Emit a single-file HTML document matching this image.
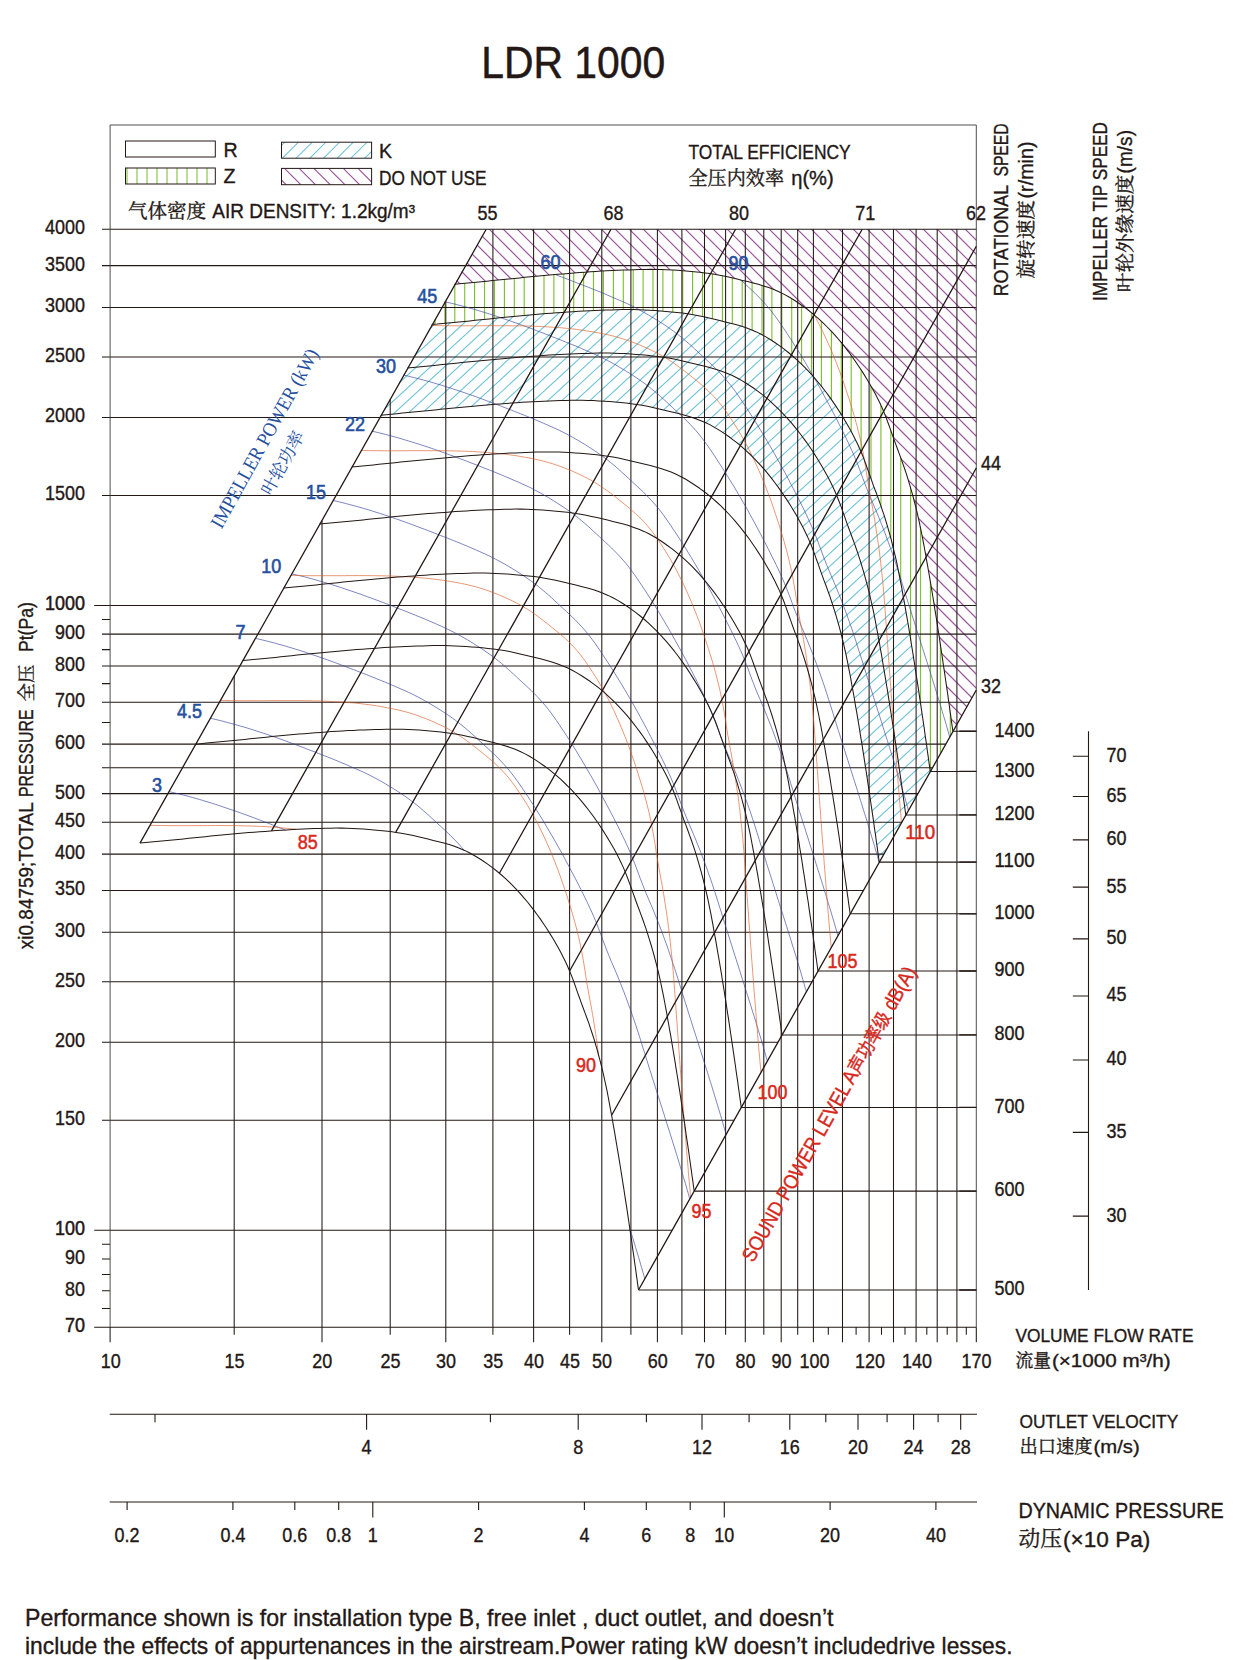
<!DOCTYPE html>
<html lang="en"><head><meta charset="utf-8"><title>LDR 1000</title>
<style>html,body{margin:0;padding:0;background:#fff}svg{display:block}</style></head>
<body>
<svg width="1242" height="1660" viewBox="0 0 1242 1660" font-family="'Liberation Sans','Noto Serif CJK SC',sans-serif" fill="#231815">
<rect width="1242" height="1660" fill="#fff"/>
<defs>
<clipPath id="ck"><path d="M380.7 415.2 L388.9 414.5 L397 413.7 L405.2 412.9 L413.4 412.1 L421.5 411.2 L429.7 410.4 L437.8 409.6 L446 408.8 L454.1 408 L462.3 407.2 L470.4 406.4 L478.6 405.7 L486.8 405 L494.9 404.3 L503.1 403.7 L511.3 403.1 L519.5 402.5 L527.6 402 L535.8 401.5 L544 401.2 L552.2 400.8 L560.4 400.6 L568.6 400.3 L576.8 400.2 L585 400.3 L593.2 400.6 L601.4 401 L609.5 401.6 L617.7 402.3 L625.9 403.1 L634 404.1 L642.1 405.3 L650.1 406.9 L658.1 408.7 L666.1 410.6 L674.1 412.5 L682 414.5 L689.9 416.7 L697.7 419.4 L705.3 422.5 L712.6 426.2 L719.6 430.4 L726.5 435 L733.1 439.8 L739.5 444.9 L745.7 450.3 L751.6 455.9 L757.4 461.8 L762.9 467.9 L768.2 474.1 L773.3 480.5 L778.2 487.1 L782.9 493.8 L787.4 500.6 L791.8 507.6 L796 514.6 L800 521.8 L803.8 529 L807.4 536.4 L810.7 543.9 L813.6 551.6 L816.4 559.3 L819.2 567 L821.9 574.7 L824.8 582.4 L827.6 590.1 L830.4 597.8 L832.9 605.6 L835.4 613.4 L837.7 621.3 L839.9 629.2 L841.9 637.1 L843.9 645.1 L845.7 653.1 L847.4 661.1 L848.9 669.2 L850.5 677.2 L851.9 685.3 L853.4 693.3 L854.8 701.4 L856.2 709.5 L857.6 717.6 L858.9 725.7 L860.2 733.7 L861.5 741.8 L862.8 749.9 L864.1 758 L865.3 766.1 L866.6 774.2 L867.8 782.3 L869 790.4 L870.2 798.5 L871.4 806.7 L872.6 814.8 L873.7 822.9 L874.9 831 L876 839.1 L877.2 847.2 L878.3 855.3 L879.2 862.1 L930.2 771.4 L929.3 764.7 L928.2 756.6 L927 748.4 L925.9 740.3 L924.7 732.2 L923.6 724.1 L922.4 716 L921.2 707.9 L920 699.8 L918.8 691.7 L917.6 683.6 L916.3 675.5 L915.1 667.4 L913.8 659.3 L912.5 651.2 L911.2 643.1 L909.9 635 L908.6 626.9 L907.2 618.8 L905.8 610.8 L904.4 602.7 L902.9 594.6 L901.5 586.6 L899.9 578.5 L898.4 570.5 L896.7 562.4 L894.9 554.4 L892.9 546.5 L890.9 538.5 L888.7 530.6 L886.4 522.8 L884 514.9 L881.4 507.2 L878.6 499.4 L875.8 491.8 L872.9 484.1 L870.2 476.4 L867.4 468.6 L864.6 460.9 L861.7 453.3 L858.4 445.8 L854.8 438.4 L851 431.1 L847 424 L842.8 416.9 L838.4 410 L833.9 403.1 L829.2 396.4 L824.3 389.9 L819.2 383.5 L813.9 377.2 L808.4 371.1 L802.6 365.3 L796.7 359.6 L790.5 354.2 L784.1 349.1 L777.5 344.3 L770.6 339.8 L763.6 335.6 L756.3 331.9 L748.7 328.7 L740.9 326.1 L733 323.8 L725.1 321.9 L717.1 319.9 L709.1 318 L701.1 316.2 L693.1 314.7 L685 313.4 L676.9 312.4 L668.7 311.6 L660.5 310.9 L652.4 310.4 L644.2 309.9 L636 309.6 L627.8 309.5 L619.6 309.7 L611.4 309.9 L603.2 310.2 L595 310.5 L586.8 310.9 L578.6 311.3 L570.5 311.9 L562.3 312.4 L554.1 313 L545.9 313.6 L537.8 314.3 L529.6 315 L521.4 315.7 L513.3 316.5 L505.1 317.3 L497 318.1 L488.8 318.9 L480.7 319.8 L472.5 320.6 L464.4 321.4 L456.2 322.2 L448 323 L439.9 323.8 L431.7 324.5Z"/></clipPath>
<clipPath id="cz"><path d="M431.7 324.5 L439.9 323.8 L448 323 L456.2 322.2 L464.4 321.4 L472.5 320.6 L480.7 319.8 L488.8 318.9 L497 318.1 L505.1 317.3 L513.3 316.5 L521.4 315.7 L529.6 315 L537.8 314.3 L545.9 313.6 L554.1 313 L562.3 312.4 L570.5 311.9 L578.6 311.3 L586.8 310.9 L595 310.5 L603.2 310.2 L611.4 309.9 L619.6 309.7 L627.8 309.5 L636 309.6 L644.2 309.9 L652.4 310.4 L660.5 310.9 L668.7 311.6 L676.9 312.4 L685 313.4 L693.1 314.7 L701.1 316.2 L709.1 318 L717.1 319.9 L725.1 321.9 L733 323.8 L740.9 326.1 L748.7 328.7 L756.3 331.9 L763.6 335.6 L770.6 339.8 L777.5 344.3 L784.1 349.1 L790.5 354.2 L796.7 359.6 L802.6 365.3 L808.4 371.1 L813.9 377.2 L819.2 383.5 L824.3 389.9 L829.2 396.4 L833.9 403.1 L838.4 410 L842.8 416.9 L847 424 L851 431.1 L854.8 438.4 L858.4 445.8 L861.7 453.3 L864.6 460.9 L867.4 468.6 L870.2 476.4 L872.9 484.1 L875.8 491.8 L878.6 499.4 L881.4 507.2 L884 514.9 L886.4 522.8 L888.7 530.6 L890.9 538.5 L892.9 546.5 L894.9 554.4 L896.7 562.4 L898.4 570.5 L899.9 578.5 L901.5 586.6 L902.9 594.6 L904.4 602.7 L905.8 610.8 L907.2 618.8 L908.6 626.9 L909.9 635 L911.2 643.1 L912.5 651.2 L913.8 659.3 L915.1 667.4 L916.3 675.5 L917.6 683.6 L918.8 691.7 L920 699.8 L921.2 707.9 L922.4 716 L923.6 724.1 L924.7 732.2 L925.9 740.3 L927 748.4 L928.2 756.6 L929.3 764.7 L930.2 771.4 L952.9 731.2 L951.9 724.5 L950.8 716.3 L949.7 708.2 L948.5 700.1 L947.4 692 L946.2 683.9 L945 675.8 L943.8 667.7 L942.6 659.6 L941.4 651.5 L940.2 643.4 L939 635.2 L937.7 627.1 L936.5 619.1 L935.2 611 L933.9 602.9 L932.5 594.8 L931.2 586.7 L929.8 578.6 L928.4 570.5 L927 562.5 L925.6 554.4 L924.1 546.3 L922.6 538.3 L921 530.2 L919.3 522.2 L917.5 514.2 L915.6 506.3 L913.5 498.3 L911.3 490.4 L909 482.6 L906.6 474.7 L904 466.9 L901.3 459.2 L898.4 451.5 L895.6 443.9 L892.8 436.1 L890.1 428.4 L887.3 420.7 L884.3 413.1 L881 405.6 L877.5 398.2 L873.7 390.9 L869.6 383.8 L865.4 376.7 L861.1 369.8 L856.5 362.9 L851.8 356.2 L846.9 349.7 L841.8 343.2 L836.5 337 L831 330.9 L825.3 325 L819.3 319.4 L813.1 314 L806.7 308.9 L800.1 304.1 L793.2 299.5 L786.2 295.4 L778.9 291.7 L771.3 288.5 L763.5 285.9 L755.6 283.6 L747.7 281.6 L739.7 279.7 L731.8 277.8 L723.8 276 L715.7 274.5 L707.6 273.2 L699.5 272.2 L691.3 271.4 L683.2 270.7 L675 270.1 L666.8 269.7 L658.6 269.4 L650.4 269.3 L642.2 269.5 L634 269.7 L625.8 270 L617.6 270.3 L609.5 270.7 L601.3 271.1 L593.1 271.6 L584.9 272.2 L576.7 272.8 L568.6 273.4 L560.4 274.1 L552.2 274.8 L544.1 275.5 L535.9 276.3 L527.8 277.1 L519.6 277.9 L511.4 278.7 L503.3 279.5 L495.1 280.4 L487 281.2 L478.8 282 L470.7 282.8 L462.5 283.6 L454.4 284.3Z"/></clipPath>
<clipPath id="cd"><path d="M454.4 284.3 L462.5 283.6 L470.7 282.8 L478.8 282 L487 281.2 L495.1 280.4 L503.3 279.5 L511.4 278.7 L519.6 277.9 L527.8 277.1 L535.9 276.3 L544.1 275.5 L552.2 274.8 L560.4 274.1 L568.6 273.4 L576.7 272.8 L584.9 272.2 L593.1 271.6 L601.3 271.1 L609.5 270.7 L617.6 270.3 L625.8 270 L634 269.7 L642.2 269.5 L650.4 269.3 L658.6 269.4 L666.8 269.7 L675 270.1 L683.2 270.7 L691.3 271.4 L699.5 272.2 L707.6 273.2 L715.7 274.5 L723.8 276 L731.8 277.8 L739.7 279.7 L747.7 281.6 L755.6 283.6 L763.5 285.9 L771.3 288.5 L778.9 291.7 L786.2 295.4 L793.2 299.5 L800.1 304.1 L806.7 308.9 L813.1 314 L819.3 319.4 L825.3 325 L831 330.9 L836.5 337 L841.8 343.2 L846.9 349.7 L851.8 356.2 L856.5 362.9 L861.1 369.8 L865.4 376.7 L869.6 383.8 L873.7 390.9 L877.5 398.2 L881 405.6 L884.3 413.1 L887.3 420.7 L890.1 428.4 L892.8 436.1 L895.6 443.9 L898.4 451.5 L901.3 459.2 L904 466.9 L906.6 474.7 L909 482.6 L911.3 490.4 L913.5 498.3 L915.6 506.3 L917.5 514.2 L919.3 522.2 L921 530.2 L922.6 538.3 L924.1 546.3 L925.6 554.4 L927 562.5 L928.4 570.5 L929.8 578.6 L931.2 586.7 L932.5 594.8 L933.9 602.9 L935.2 611 L936.5 619.1 L937.7 627.1 L939 635.2 L940.2 643.4 L941.4 651.5 L942.6 659.6 L943.8 667.7 L945 675.8 L946.2 683.9 L947.4 692 L948.5 700.1 L949.7 708.2 L950.8 716.3 L951.9 724.5 L952.9 731.2 L976.3 690 L976.3 229.3 L486.2 229.3Z"/></clipPath>
</defs>
<g fill="none">
<path clip-path="url(#ck)" stroke="#6ec3d7" stroke-width="1.1" d="M-235.9 864.1 L369 307.5M-221.9 864.1 L383 307.5M-207.9 864.1 L397 307.5M-193.9 864.1 L411 307.5M-179.9 864.1 L425 307.5M-165.9 864.1 L439 307.5M-151.9 864.1 L453 307.5M-137.9 864.1 L467 307.5M-123.9 864.1 L481 307.5M-109.9 864.1 L495 307.5M-95.9 864.1 L509 307.5M-81.9 864.1 L523 307.5M-67.9 864.1 L537 307.5M-53.9 864.1 L551 307.5M-39.9 864.1 L565 307.5M-25.9 864.1 L579 307.5M-11.9 864.1 L593 307.5M2.1 864.1 L607 307.5M16.1 864.1 L621 307.5M30.1 864.1 L635 307.5M44.1 864.1 L649 307.5M58.1 864.1 L663 307.5M72.1 864.1 L677 307.5M86.1 864.1 L691 307.5M100.1 864.1 L705 307.5M114.1 864.1 L719 307.5M128.1 864.1 L733 307.5M142.1 864.1 L747 307.5M156.1 864.1 L761 307.5M170.1 864.1 L775 307.5M184.1 864.1 L789 307.5M198.1 864.1 L803 307.5M212.1 864.1 L817 307.5M226.1 864.1 L831 307.5M240.1 864.1 L845 307.5M254.1 864.1 L859 307.5M268.1 864.1 L873 307.5M282.1 864.1 L887 307.5M296.1 864.1 L901 307.5M310.1 864.1 L915 307.5M324.1 864.1 L929 307.5M338.1 864.1 L943 307.5M352.1 864.1 L957 307.5M366.1 864.1 L971 307.5M380.1 864.1 L985 307.5M394.1 864.1 L999 307.5M408.1 864.1 L1013 307.5M422.1 864.1 L1027 307.5M436.1 864.1 L1041 307.5M450.1 864.1 L1055 307.5M464.1 864.1 L1069 307.5M478.1 864.1 L1083 307.5M492.1 864.1 L1097 307.5M506.1 864.1 L1111 307.5M520.1 864.1 L1125 307.5M534.1 864.1 L1139 307.5M548.1 864.1 L1153 307.5M562.1 864.1 L1167 307.5M576.1 864.1 L1181 307.5M590.1 864.1 L1195 307.5M604.1 864.1 L1209 307.5M618.1 864.1 L1223 307.5M632.1 864.1 L1237 307.5M646.1 864.1 L1251 307.5M660.1 864.1 L1265 307.5M674.1 864.1 L1279 307.5M688.1 864.1 L1293 307.5M702.1 864.1 L1307 307.5M716.1 864.1 L1321 307.5M730.1 864.1 L1335 307.5M744.1 864.1 L1349 307.5M758.1 864.1 L1363 307.5M772.1 864.1 L1377 307.5M786.1 864.1 L1391 307.5M800.1 864.1 L1405 307.5M814.1 864.1 L1419 307.5M828.1 864.1 L1433 307.5M842.1 864.1 L1447 307.5M856.1 864.1 L1461 307.5M870.1 864.1 L1475 307.5M884.1 864.1 L1489 307.5M898.1 864.1 L1503 307.5M912.1 864.1 L1517 307.5M926.1 864.1 L1531 307.5M940.1 864.1 L1545 307.5"/>
<path clip-path="url(#cz)" stroke="#7fc031" stroke-width="1.15" d="M425.1 267.3 V773.4M435 267.3 V773.4M444.9 267.3 V773.4M454.8 267.3 V773.4M464.7 267.3 V773.4M474.6 267.3 V773.4M484.5 267.3 V773.4M494.4 267.3 V773.4M504.4 267.3 V773.4M514.3 267.3 V773.4M524.2 267.3 V773.4M534.1 267.3 V773.4M544 267.3 V773.4M553.9 267.3 V773.4M563.8 267.3 V773.4M573.7 267.3 V773.4M583.6 267.3 V773.4M593.5 267.3 V773.4M603.4 267.3 V773.4M613.4 267.3 V773.4M623.3 267.3 V773.4M633.2 267.3 V773.4M643.1 267.3 V773.4M653 267.3 V773.4M662.9 267.3 V773.4M672.8 267.3 V773.4M682.7 267.3 V773.4M692.6 267.3 V773.4M702.5 267.3 V773.4M712.4 267.3 V773.4M722.4 267.3 V773.4M732.3 267.3 V773.4M742.2 267.3 V773.4M752.1 267.3 V773.4M762 267.3 V773.4M771.9 267.3 V773.4M781.8 267.3 V773.4M791.7 267.3 V773.4M801.6 267.3 V773.4M811.5 267.3 V773.4M821.4 267.3 V773.4M831.4 267.3 V773.4M841.3 267.3 V773.4M851.2 267.3 V773.4M861.1 267.3 V773.4M871 267.3 V773.4M880.9 267.3 V773.4M890.8 267.3 V773.4M900.7 267.3 V773.4M910.6 267.3 V773.4M920.5 267.3 V773.4M930.4 267.3 V773.4M940.4 267.3 V773.4M950.3 267.3 V773.4M960.2 267.3 V773.4"/>
<path clip-path="url(#cd)" stroke="#9a549b" stroke-width="1.15" d="M-58.6 227.3 L447.3 733.2M-44.6 227.3 L461.3 733.2M-30.6 227.3 L475.3 733.2M-16.6 227.3 L489.3 733.2M-2.6 227.3 L503.3 733.2M11.4 227.3 L517.3 733.2M25.4 227.3 L531.3 733.2M39.4 227.3 L545.3 733.2M53.4 227.3 L559.3 733.2M67.4 227.3 L573.3 733.2M81.4 227.3 L587.3 733.2M95.4 227.3 L601.3 733.2M109.4 227.3 L615.3 733.2M123.4 227.3 L629.3 733.2M137.4 227.3 L643.3 733.2M151.4 227.3 L657.3 733.2M165.4 227.3 L671.3 733.2M179.4 227.3 L685.3 733.2M193.4 227.3 L699.3 733.2M207.4 227.3 L713.3 733.2M221.4 227.3 L727.3 733.2M235.4 227.3 L741.3 733.2M249.4 227.3 L755.3 733.2M263.4 227.3 L769.3 733.2M277.4 227.3 L783.3 733.2M291.4 227.3 L797.3 733.2M305.4 227.3 L811.3 733.2M319.4 227.3 L825.3 733.2M333.4 227.3 L839.3 733.2M347.4 227.3 L853.3 733.2M361.4 227.3 L867.3 733.2M375.4 227.3 L881.3 733.2M389.4 227.3 L895.3 733.2M403.4 227.3 L909.3 733.2M417.4 227.3 L923.3 733.2M431.4 227.3 L937.3 733.2M445.4 227.3 L951.3 733.2M459.4 227.3 L965.3 733.2M473.4 227.3 L979.3 733.2M487.4 227.3 L993.3 733.2M501.4 227.3 L1007.3 733.2M515.4 227.3 L1021.3 733.2M529.4 227.3 L1035.3 733.2M543.4 227.3 L1049.3 733.2M557.4 227.3 L1063.3 733.2M571.4 227.3 L1077.3 733.2M585.4 227.3 L1091.3 733.2M599.4 227.3 L1105.3 733.2M613.4 227.3 L1119.3 733.2M627.4 227.3 L1133.3 733.2M641.4 227.3 L1147.3 733.2M655.4 227.3 L1161.3 733.2M669.4 227.3 L1175.3 733.2M683.4 227.3 L1189.3 733.2M697.4 227.3 L1203.3 733.2M711.4 227.3 L1217.3 733.2M725.4 227.3 L1231.3 733.2M739.4 227.3 L1245.3 733.2M753.4 227.3 L1259.3 733.2M767.4 227.3 L1273.3 733.2M781.4 227.3 L1287.3 733.2M795.4 227.3 L1301.3 733.2M809.4 227.3 L1315.3 733.2M823.4 227.3 L1329.3 733.2M837.4 227.3 L1343.3 733.2M851.4 227.3 L1357.3 733.2M865.4 227.3 L1371.3 733.2M879.4 227.3 L1385.3 733.2M893.4 227.3 L1399.3 733.2M907.4 227.3 L1413.3 733.2M921.4 227.3 L1427.3 733.2M935.4 227.3 L1441.3 733.2M949.4 227.3 L1455.3 733.2M963.4 227.3 L1469.3 733.2M977.4 227.3 L1483.3 733.2M991.4 227.3 L1497.3 733.2"/>
</g>
<path d="M102 229.3H976.3M102 265.6H976.3M102 307.4H976.3M102 356.9H976.3M102 417.4H976.3M102 495.5H976.3M94.2 605.5H976.3M102 634.1H976.3M102 666H976.3M102 702.3H969.4M102 744.1H945.8M102 767.7H932.5M102 793.6H918M102 822.2H901.9M102 854.1H883.9M102 890.4H863.5M102 932.2H839.9M102 981.7H812.1M102 1042.2H778M102 1120.3H734.1M94.2 1230.3H672.1M94.2 1327.2H976.3M102 619.4H110.1M102 649.6H110.1M102 683.6H110.1M102 722.4H110.1M102 1244.2H110.1M102 1258.9H110.1M102 1274.4H110.1M102 1290.8H110.1M102 1308.4H110.1M110.1 1327.2V1342.2M234.2 676.1V1334.7M322 520.4V1342.2M390.2 399.6V1334.7M445.8 300.9V1342.2M492.9 229.3V1334.7M533.6 229.3V1342.2M569.6 229.3V1334.7M601.8 229.3V1342.2M630.9 229.3V1334.7M657.4 229.3V1342.2M681.9 229.3V1334.7M704.5 229.3V1342.2M725.6 229.3V1334.7M745.3 229.3V1342.2M763.8 229.3V1334.7M781.2 229.3V1342.2M797.7 229.3V1334.7M813.4 229.3V1342.2M842.5 229.3V1342.2M869.1 229.3V1342.2M893.5 229.3V1342.2M916.1 229.3V1342.2M937.2 229.3V1342.2M956.9 229.3V1342.2M976.3 1327.2V1342.2M828.3 1327.2V1334.7M856.1 1327.2V1334.7M881.5 1327.2V1334.7M905 1327.2V1334.7M926.8 1327.2V1334.7M947.2 1327.2V1334.7M966.3 1327.2V1334.7" fill="none" stroke="#231815" stroke-width="1.05"/>
<path d="M110.1 1327.2V125H976.3V1327.2" fill="none" stroke="#3e3a39" stroke-width="0.9"/>
<path d="M638.5 1290H976.3M694.2 1191.1H976.3M741.2 1107.4H976.3M782 1034.9H976.3M818 971H976.3M850.1 913.8H976.3M879.2 862.1H976.3M905.8 814.9H976.3M930.2 771.4H976.3M952.9 731.2H976.3" fill="none" stroke="#231815" stroke-width="1.05"/>
<path d="M959.3 1290H976.3M959.3 1191.1H976.3M959.3 1107.4H976.3M959.3 1034.9H976.3M959.3 971H976.3M959.3 913.8H976.3M959.3 862.1H976.3M959.3 814.9H976.3M959.3 771.4H976.3M959.3 731.2H976.3" fill="none" stroke="#231815" stroke-width="1.35"/>
<path d="M169 791.6 L172.4 792.4 L175.8 793.2 L179.2 794 L182.6 794.8 L186 795.7 L189.3 796.6 L192.7 797.5 L196 798.5 L199.3 799.4 L202.6 800.4 L205.9 801.4 L209.1 802.4 L212.4 803.4 L215.7 804.4 L218.9 805.5 L222.2 806.6 L225.4 807.7 L228.6 808.8 L231.9 809.9 L235.1 811 L238.3 812.1 L241.5 813.3 L244.8 814.4 L248 815.6 L251.2 816.8 L254.4 818 L257.6 819.2 L260.8 820.4 L264 821.7 L267.3 822.9 L270.5 824.1 L273.7 825.4 L276.9 826.7 L280.1 827.9 L283.4 829.2 L285.4 830M210.3 718.2 L213.7 719 L217.1 719.8 L220.5 720.6 L223.9 721.5 L227.2 722.4 L230.6 723.3 L233.9 724.2 L237.2 725.1 L240.5 726.1 L243.8 727 L247.1 728 L250.4 729 L253.7 730.1 L256.9 731.1 L260.2 732.2 L263.4 733.2 L266.7 734.3 L269.9 735.4 L273.1 736.5 L276.4 737.6 L279.6 738.8 L282.8 739.9 L286 741.1 L289.2 742.3 L292.5 743.5 L295.7 744.7 L298.9 745.9 L302.1 747.1 L305.3 748.3 L308.5 749.6 L311.7 750.8 L315 752 L318.2 753.3 L321.4 754.6 L324.6 755.8 L327.9 757.1 L331.1 758.4 L334.3 759.7 L337.6 761 L340.8 762.4 L344 763.7 L347.3 765.1 L350.5 766.5 L353.7 767.9 L357 769.3 L360.2 770.7 L363.4 772.2 L366.6 773.7 L369.9 775.3 L373.1 777 L376.3 778.7 L379.5 780.4 L382.7 782.2 L385.9 784.1 L389 786 L392.2 787.9 L395.3 789.9 L398.5 791.9 L401.6 794 L404.7 796.1 L407.9 798.3 L410.9 800.6 L414 802.9 L417.1 805.3 L420.1 807.8 L423.1 810.4 L426.1 813 L429.1 815.7 L432.1 818.5 L435.1 821.2 L438.1 824 L441.1 826.7 L444 829.4 L447 832.2 L450 835.1 L452.9 838 L455.9 841 L458.8 844.1 L461.6 847.3 L464.2 850.3 L464.2 850.3M629.8 1228.3 L630.7 1231.2 L631.7 1234.5 L632.7 1237.8 L633.7 1241.1 L634.7 1244.4 L635.7 1247.7 L636.7 1251 L637.7 1254.3 L638.7 1257.6 L639.7 1260.9 L640.6 1264.3 L641.6 1267.6 L642.6 1271 L643.5 1274.3 L644.5 1277.7 L644.8 1278.8M255.2 638.3 L258.7 639.1 L262.1 639.9 L265.5 640.7 L268.8 641.6 L272.2 642.4 L275.5 643.3 L278.9 644.3 L282.2 645.2 L285.5 646.1 L288.8 647.1 L292.1 648.1 L295.4 649.1 L298.6 650.1 L301.9 651.2 L305.2 652.2 L308.4 653.3 L311.6 654.4 L314.9 655.5 L318.1 656.6 L321.3 657.7 L324.6 658.9 L327.8 660 L331 661.2 L334.2 662.3 L337.4 663.5 L340.6 664.7 L343.8 665.9 L347.1 667.2 L350.3 668.4 L353.5 669.6 L356.7 670.9 L359.9 672.1 L363.1 673.4 L366.4 674.6 L369.6 675.9 L372.8 677.2 L376.1 678.5 L379.3 679.8 L382.5 681.1 L385.8 682.4 L389 683.8 L392.2 685.2 L395.5 686.6 L398.7 688 L401.9 689.4 L405.2 690.8 L408.4 692.3 L411.6 693.8 L414.8 695.4 L418 697 L421.2 698.7 L424.4 700.5 L427.6 702.3 L430.8 704.2 L434 706.1 L437.2 708 L440.3 710 L443.5 712 L446.6 714.1 L449.7 716.2 L452.8 718.4 L455.9 720.6 L459 723 L462 725.4 L465.1 727.9 L468.1 730.5 L471.1 733.1 L474.1 735.8 L477.1 738.5 L480.1 741.3 L483 744 L486 746.8 L489 749.5 L492 752.3 L495 755.1 L497.9 758 L500.8 761 L503.7 764.1 L506.6 767.3 L509.4 770.6 L512.2 774.1 L514.9 777.7 L517.5 781.3 L520.1 785 L522.7 788.8 L525.2 792.6 L527.8 796.4 L530.3 800.3 L532.8 804.1 L535.2 808 L537.7 811.9 L540.1 815.8 L542.5 819.7 L544.8 823.6 L547.1 827.5 L549.4 831.4 L551.7 835.3 L554 839.2 L556.2 843.1 L558.4 847 L560.6 850.9 L562.7 854.8 L564.8 858.7 L566.9 862.6 L569 866.5 L571 870.4 L573.1 874.2 L575.1 878.1 L577.1 881.9 L579 885.8 L581 889.6 L582.9 893.5 L584.8 897.3 L586.6 901.1 L588.5 904.9 L590.2 908.7 L592 912.6 L593.7 916.4 L595.3 920.2 L596.8 924 L598.3 927.9 L599.8 931.7 L601.2 935.5 L602.6 939.3 L604 943.1 L605.5 946.9 L606.9 950.6 L608.4 954.3 L609.9 958 L611.4 961.7 L613 965.3 L614.5 968.9 L616.1 972.5 L617.6 976.1 L619 979.7 L620.5 983.3 L621.9 986.9 L623.3 990.4 L624.7 994 L626 997.6 L627.3 1001.1 L628.6 1004.7 L629.9 1008.2 L631.2 1011.8 L632.4 1015.3 L633.6 1018.8 L634.8 1022.3 L636 1025.8 L637.1 1029.3 L638.3 1032.8 L639.4 1036.3 L640.5 1039.7 L641.6 1043.2 L642.6 1046.7 L643.7 1050.1 L644.8 1053.5 L645.8 1057 L646.9 1060.4 L648 1063.8 L649 1067.2 L650.1 1070.6 L651.2 1073.9 L652.2 1077.3 L653.3 1080.7 L654.4 1084 L655.4 1087.4 L656.5 1090.7 L657.5 1094 L658.6 1097.4 L659.7 1100.7 L660.7 1104 L661.8 1107.3 L662.8 1110.6 L663.9 1113.9 L664.9 1117.2 L666 1120.5 L667 1123.8 L668 1127.1 L669.1 1130.4 L670.1 1133.7 L671.2 1137 L672.2 1140.3 L673.2 1143.6 L674.3 1146.9 L675.3 1150.2 L676.3 1153.5 L677.3 1156.7 L678.3 1160 L679.3 1163.3 L680.3 1166.6 L681.3 1170 L682.3 1173.3 L683.3 1176.6 L684.3 1179.9 L685.3 1183.2 L686.3 1186.6 L687.2 1189.9 L688.2 1193.3 L689.1 1196.6 L689.8 1198.9M291.5 573.8 L294.9 574.6 L298.4 575.4 L301.8 576.2 L305.1 577 L308.5 577.9 L311.8 578.8 L315.2 579.7 L318.5 580.7 L321.8 581.6 L325.1 582.6 L328.4 583.6 L331.7 584.6 L334.9 585.6 L338.2 586.7 L341.5 587.7 L344.7 588.8 L347.9 589.9 L351.2 591 L354.4 592.1 L357.6 593.2 L360.9 594.3 L364.1 595.5 L367.3 596.7 L370.5 597.8 L373.7 599 L376.9 600.2 L380.1 601.4 L383.4 602.6 L386.6 603.9 L389.8 605.1 L393 606.3 L396.2 607.6 L399.4 608.9 L402.7 610.1 L405.9 611.4 L409.1 612.7 L412.4 614 L415.6 615.3 L418.8 616.6 L422.1 617.9 L425.3 619.3 L428.5 620.7 L431.8 622 L435 623.4 L438.2 624.9 L441.5 626.3 L444.7 627.8 L447.9 629.3 L451.1 630.9 L454.3 632.5 L457.5 634.2 L460.7 636 L463.9 637.8 L467.1 639.6 L470.3 641.5 L473.5 643.5 L476.6 645.5 L479.8 647.5 L482.9 649.6 L486 651.7 L489.1 653.9 L492.2 656.1 L495.3 658.4 L498.3 660.8 L501.4 663.3 L504.4 665.9 L507.4 668.6 L510.4 671.3 L513.4 674 L516.4 676.8 L519.3 679.5 L522.3 682.3 L525.3 685 L528.3 687.8 L531.3 690.6 L534.2 693.5 L537.1 696.5 L540 699.6 L542.9 702.8 L545.7 706.1 L548.5 709.6 L551.2 713.1 L553.8 716.8 L556.4 720.5 L559 724.3 L561.5 728.1 L564.1 731.9 L566.6 735.8 L569.1 739.6 L571.5 743.5 L574 747.4 L576.4 751.2 L578.7 755.1 L581.1 759 L583.4 762.9 L585.7 766.9 L588 770.8 L590.3 774.7 L592.5 778.6 L594.7 782.5 L596.9 786.4 L599 790.3 L601.1 794.2 L603.2 798.1 L605.3 802 L607.3 805.8 L609.4 809.7 L611.4 813.6 L613.4 817.4 L615.3 821.3 L617.3 825.1 L619.2 828.9 L621.1 832.8 L622.9 836.6 L624.8 840.4 L626.5 844.2 L628.3 848 L629.9 851.9 L631.6 855.7 L633.1 859.5 L634.6 863.3 L636.1 867.2 L637.5 871 L638.9 874.8 L640.3 878.6 L641.8 882.4 L643.2 886.1 L644.7 889.8 L646.2 893.5 L647.7 897.1 L649.3 900.8 L650.8 904.4 L652.4 908 L653.9 911.6 L655.3 915.2 L656.8 918.8 L658.2 922.3 L659.6 925.9 L661 929.5 L662.3 933.1 L663.6 936.6 L664.9 940.2 L666.2 943.7 L667.5 947.2 L668.7 950.8 L669.9 954.3 L671.1 957.8 L672.3 961.3 L673.4 964.8 L674.6 968.3 L675.7 971.7 L676.8 975.2 L677.9 978.7 L678.9 982.1 L680 985.6 L681.1 989 L682.1 992.4 L683.2 995.8 L684.3 999.2 L685.3 1002.6 L686.4 1006 L687.5 1009.4 L688.5 1012.8 L689.6 1016.1 L690.7 1019.5 L691.7 1022.8 L692.8 1026.2 L693.8 1029.5 L694.9 1032.8 L696 1036.2 L697 1039.5 L698.1 1042.8 L699.1 1046.1 L700.2 1049.4 L701.2 1052.7 L702.3 1056 L703.3 1059.3 L704.3 1062.6 L705.4 1065.9 L706.4 1069.2 L707.5 1072.5 L708.5 1075.8 L709.5 1079.1 L710.6 1082.3 L711.6 1085.6 L712.6 1088.9 L713.6 1092.2 L714.6 1095.5 L715.6 1098.8 L716.6 1102.1 L717.6 1105.4 L718.6 1108.7 L719.6 1112.1 L720.6 1115.4 L721.6 1118.7 L722.6 1122 L723.5 1125.4 L724.5 1128.7 L725.4 1132.1 L726.1 1134.4M332.8 500.4 L336.2 501.2 L339.6 502 L343 502.8 L346.4 503.7 L349.8 504.6 L353.1 505.5 L356.4 506.4 L359.8 507.3 L363.1 508.3 L366.4 509.2 L369.7 510.2 L372.9 511.2 L376.2 512.3 L379.5 513.3 L382.7 514.4 L386 515.4 L389.2 516.5 L392.4 517.6 L395.7 518.7 L398.9 519.8 L402.1 521 L405.3 522.1 L408.6 523.3 L411.8 524.5 L415 525.7 L418.2 526.9 L421.4 528.1 L424.6 529.3 L427.8 530.5 L431.1 531.8 L434.3 533 L437.5 534.3 L440.7 535.5 L443.9 536.8 L447.2 538 L450.4 539.3 L453.6 540.6 L456.9 541.9 L460.1 543.2 L463.3 544.6 L466.6 545.9 L469.8 547.3 L473 548.7 L476.3 550.1 L479.5 551.5 L482.7 552.9 L486 554.4 L489.2 555.9 L492.4 557.5 L495.6 559.2 L498.8 560.9 L502 562.6 L505.2 564.4 L508.4 566.3 L511.6 568.2 L514.7 570.1 L517.9 572.1 L521 574.1 L524.1 576.2 L527.3 578.3 L530.4 580.5 L533.5 582.8 L536.6 585.1 L539.6 587.5 L542.6 590 L545.7 592.6 L548.7 595.2 L551.7 597.9 L554.6 600.7 L557.6 603.4 L560.6 606.2 L563.6 608.9 L566.6 611.7 L569.5 614.4 L572.5 617.3 L575.5 620.2 L578.4 623.2 L581.3 626.3 L584.2 629.5 L587 632.8 L589.7 636.2 L592.4 639.8 L595.1 643.4 L597.7 647.2 L600.3 650.9 L602.8 654.8 L605.3 658.6 L607.8 662.4 L610.3 666.3 L612.8 670.1 L615.2 674 L617.6 677.9 L620 681.8 L622.4 685.7 L624.7 689.6 L627 693.5 L629.3 697.4 L631.5 701.3 L633.8 705.2 L636 709.1 L638.1 713 L640.3 716.9 L642.4 720.8 L644.5 724.7 L646.6 728.6 L648.6 732.5 L650.6 736.4 L652.6 740.2 L654.6 744.1 L656.6 747.9 L658.5 751.8 L660.4 755.6 L662.3 759.4 L664.2 763.2 L666 767.1 L667.8 770.9 L669.5 774.7 L671.2 778.5 L672.8 782.3 L674.4 786.2 L675.9 790 L677.4 793.8 L678.8 797.6 L680.2 801.4 L681.6 805.2 L683 809 L684.5 812.7 L686 816.5 L687.5 820.1 L689 823.8 L690.6 827.4 L692.1 831 L693.6 834.6 L695.1 838.2 L696.6 841.8 L698 845.4 L699.5 849 L700.9 852.6 L702.2 856.1 L703.6 859.7 L704.9 863.3 L706.2 866.8 L707.5 870.3 L708.7 873.9 L710 877.4 L711.2 880.9 L712.4 884.4 L713.5 887.9 L714.7 891.4 L715.8 894.9 L716.9 898.4 L718 901.9 L719.1 905.3 L720.2 908.8 L721.3 912.2 L722.3 915.7 L723.4 919.1 L724.5 922.5 L725.5 925.9 L726.6 929.3 L727.7 932.7 L728.7 936.1 L729.8 939.4 L730.9 942.8 L731.9 946.1 L733 949.5 L734 952.8 L735.1 956.2 L736.2 959.5 L737.2 962.8 L738.3 966.1 L739.3 969.5 L740.4 972.8 L741.4 976.1 L742.5 979.4 L743.5 982.7 L744.6 986 L745.6 989.3 L746.6 992.6 L747.7 995.8 L748.7 999.1 L749.8 1002.4 L750.8 1005.7 L751.8 1009 L752.8 1012.3 L753.9 1015.6 L754.9 1018.9 L755.9 1022.2 L756.9 1025.5 L757.9 1028.8 L758.9 1032.1 L759.9 1035.4 L760.9 1038.7 L761.9 1042 L762.9 1045.4 L763.8 1048.7 L764.8 1052 L765.7 1055.4 L766.7 1058.8 L767.3 1061M371.8 431.1 L375.2 431.9 L378.6 432.7 L382 433.6 L385.4 434.4 L388.7 435.3 L392.1 436.2 L395.4 437.1 L398.7 438 L402.1 439 L405.3 440 L408.6 441 L411.9 442 L415.2 443 L418.4 444 L421.7 445.1 L424.9 446.1 L428.2 447.2 L431.4 448.3 L434.6 449.4 L437.9 450.6 L441.1 451.7 L444.3 452.9 L447.5 454 L450.7 455.2 L454 456.4 L457.2 457.6 L460.4 458.8 L463.6 460 L466.8 461.2 L470 462.5 L473.2 463.7 L476.5 465 L479.7 466.2 L482.9 467.5 L486.1 468.8 L489.4 470 L492.6 471.3 L495.8 472.6 L499.1 474 L502.3 475.3 L505.5 476.7 L508.8 478 L512 479.4 L515.2 480.8 L518.5 482.2 L521.7 483.7 L524.9 485.1 L528.2 486.6 L531.4 488.2 L534.6 489.9 L537.8 491.6 L541 493.3 L544.2 495.2 L547.4 497 L550.5 498.9 L553.7 500.8 L556.8 502.8 L560 504.9 L563.1 506.9 L566.2 509 L569.4 511.2 L572.5 513.5 L575.5 515.8 L578.6 518.2 L581.6 520.7 L584.6 523.3 L587.7 525.9 L590.6 528.6 L593.6 531.4 L596.6 534.1 L599.6 536.9 L602.6 539.6 L605.5 542.4 L608.5 545.1 L611.5 548 L614.4 550.9 L617.4 553.9 L620.3 557 L623.1 560.2 L626 563.5 L628.7 566.9 L631.4 570.5 L634.1 574.2 L636.7 577.9 L639.2 581.7 L641.8 585.5 L644.3 589.3 L646.8 593.1 L649.3 597 L651.8 600.8 L654.2 604.7 L656.6 608.6 L659 612.5 L661.3 616.4 L663.7 620.3 L666 624.2 L668.3 628.1 L670.5 632 L672.7 635.9 L674.9 639.9 L677.1 643.8 L679.3 647.7 L681.4 651.5 L683.5 655.4 L685.5 659.3 L687.6 663.2 L689.6 667.1 L691.6 670.9 L693.6 674.8 L695.6 678.6 L697.5 682.5 L699.4 686.3 L701.3 690.1 L703.2 694 L705 697.8 L706.8 701.6 L708.5 705.4 L710.2 709.2 L711.8 713 L713.4 716.9 L714.9 720.7 L716.3 724.5 L717.8 728.4 L719.2 732.2 L720.6 736 L722 739.7 L723.4 743.5 L724.9 747.2 L726.5 750.8 L728 754.5 L729.5 758.1 L731.1 761.7 L732.6 765.4 L734.1 769 L735.6 772.5 L737 776.1 L738.4 779.7 L739.8 783.3 L741.2 786.9 L742.5 790.4 L743.9 794 L745.2 797.5 L746.5 801.1 L747.7 804.6 L749 808.1 L750.2 811.6 L751.4 815.1 L752.5 818.7 L753.7 822.1 L754.8 825.6 L755.9 829.1 L757 832.6 L758.1 836 L759.2 839.5 L760.2 842.9 L761.3 846.4 L762.4 849.8 L763.4 853.2 L764.5 856.6 L765.6 860 L766.6 863.4 L767.7 866.8 L768.8 870.1 L769.8 873.5 L770.9 876.9 L772 880.2 L773 883.6 L774.1 886.9 L775.1 890.2 L776.2 893.5 L777.2 896.9 L778.3 900.2 L779.3 903.5 L780.4 906.8 L781.4 910.1 L782.5 913.4 L783.5 916.7 L784.6 920 L785.6 923.3 L786.7 926.6 L787.7 929.9 L788.7 933.1 L789.8 936.4 L790.8 939.7 L791.8 943 L792.8 946.3 L793.9 949.6 L794.9 952.9 L795.9 956.2 L796.9 959.5 L797.9 962.8 L798.9 966.1 L799.9 969.4 L800.9 972.7 L801.8 976.1 L802.8 979.4 L803.8 982.8 L804.7 986.1 L805.7 989.5 L806.3 991.7M403.3 375 L406.8 375.8 L410.2 376.6 L413.6 377.5 L416.9 378.3 L420.3 379.2 L423.7 380.1 L427 381 L430.3 381.9 L433.6 382.9 L436.9 383.9 L440.2 384.8 L443.5 385.9 L446.7 386.9 L450 387.9 L453.3 389 L456.5 390 L459.7 391.1 L463 392.2 L466.2 393.3 L469.4 394.5 L472.7 395.6 L475.9 396.7 L479.1 397.9 L482.3 399.1 L485.5 400.3 L488.7 401.5 L492 402.7 L495.2 403.9 L498.4 405.1 L501.6 406.4 L504.8 407.6 L508 408.9 L511.3 410.1 L514.5 411.4 L517.7 412.6 L520.9 413.9 L524.2 415.2 L527.4 416.5 L530.6 417.8 L533.9 419.2 L537.1 420.5 L540.3 421.9 L543.6 423.3 L546.8 424.7 L550 426.1 L553.3 427.6 L556.5 429 L559.7 430.5 L562.9 432.1 L566.1 433.8 L569.4 435.5 L572.5 437.2 L575.7 439 L578.9 440.9 L582.1 442.8 L585.3 444.7 L588.4 446.7 L591.6 448.8 L594.7 450.8 L597.8 452.9 L600.9 455.1 L604 457.4 L607.1 459.7 L610.2 462.1 L613.2 464.6 L616.2 467.2 L619.2 469.8 L622.2 472.5 L625.2 475.3 L628.2 478 L631.1 480.8 L634.1 483.5 L637.1 486.3 L640.1 489 L643.1 491.9 L646 494.8 L648.9 497.8 L651.8 500.9 L654.7 504.1 L657.5 507.4 L660.3 510.8 L663 514.4 L665.6 518 L668.2 521.8 L670.8 525.6 L673.3 529.4 L675.9 533.2 L678.4 537 L680.9 540.9 L683.3 544.7 L685.8 548.6 L688.2 552.5 L690.6 556.4 L692.9 560.3 L695.2 564.2 L697.5 568.1 L699.8 572 L702.1 575.9 L704.3 579.8 L706.5 583.7 L708.7 587.6 L710.8 591.5 L712.9 595.4 L715 599.3 L717.1 603.2 L719.2 607.1 L721.2 611 L723.2 614.8 L725.2 618.7 L727.1 622.5 L729.1 626.4 L731 630.2 L732.9 634 L734.7 637.9 L736.6 641.7 L738.3 645.5 L740.1 649.3 L741.8 653.1 L743.4 656.9 L744.9 660.8 L746.4 664.6 L747.9 668.4 L749.3 672.3 L750.7 676.1 L752.1 679.9 L753.6 683.6 L755 687.4 L756.5 691.1 L758 694.7 L759.6 698.4 L761.1 702 L762.6 705.6 L764.2 709.2 L765.7 712.8 L767.1 716.4 L768.6 720 L770 723.6 L771.4 727.2 L772.8 730.8 L774.1 734.3 L775.4 737.9 L776.7 741.4 L778 745 L779.3 748.5 L780.5 752 L781.7 755.5 L782.9 759 L784.1 762.5 L785.2 766 L786.4 769.5 L787.5 773 L788.6 776.5 L789.7 779.9 L790.7 783.4 L791.8 786.8 L792.9 790.3 L793.9 793.7 L795 797.1 L796.1 800.5 L797.1 803.9 L798.2 807.3 L799.3 810.7 L800.3 814 L801.4 817.4 L802.5 820.8 L803.5 824.1 L804.6 827.4 L805.6 830.8 L806.7 834.1 L807.8 837.4 L808.8 840.8 L809.9 844.1 L810.9 847.4 L812 850.7 L813 854 L814.1 857.3 L815.1 860.6 L816.1 863.9 L817.2 867.2 L818.2 870.5 L819.3 873.7 L820.3 877 L821.3 880.3 L822.4 883.6 L823.4 886.9 L824.4 890.2 L825.4 893.5 L826.4 896.8 L827.4 900.1 L828.4 903.4 L829.4 906.7 L830.4 910 L831.4 913.3 L832.4 916.6 L833.4 920 L834.4 923.3 L835.3 926.7 L836.3 930 L837.2 933.4 L837.9 935.6M444.6 301.7 L448 302.5 L451.4 303.3 L454.8 304.1 L458.2 305 L461.6 305.8 L464.9 306.7 L468.2 307.6 L471.6 308.6 L474.9 309.5 L478.2 310.5 L481.5 311.5 L484.7 312.5 L488 313.5 L491.3 314.6 L494.5 315.6 L497.8 316.7 L501 317.8 L504.2 318.9 L507.5 320 L510.7 321.1 L513.9 322.3 L517.1 323.4 L520.4 324.6 L523.6 325.7 L526.8 326.9 L530 328.1 L533.2 329.3 L536.4 330.6 L539.6 331.8 L542.9 333 L546.1 334.3 L549.3 335.5 L552.5 336.8 L555.7 338 L559 339.3 L562.2 340.6 L565.4 341.9 L568.7 343.2 L571.9 344.5 L575.1 345.8 L578.4 347.2 L581.6 348.6 L584.8 350 L588.1 351.4 L591.3 352.8 L594.5 354.2 L597.8 355.7 L601 357.2 L604.2 358.8 L607.4 360.4 L610.6 362.1 L613.8 363.9 L617 365.7 L620.2 367.6 L623.4 369.5 L626.5 371.4 L629.7 373.4 L632.8 375.4 L636 377.5 L639.1 379.6 L642.2 381.8 L645.3 384 L648.4 386.3 L651.4 388.8 L654.5 391.3 L657.5 393.8 L660.5 396.5 L663.5 399.2 L666.5 401.9 L669.4 404.7 L672.4 407.4 L675.4 410.2 L678.4 412.9 L681.4 415.7 L684.3 418.5 L687.3 421.4 L690.2 424.4 L693.1 427.5 L696 430.7 L698.8 434 L701.5 437.5 L704.2 441 L706.9 444.7 L709.5 448.4 L712.1 452.2 L714.6 456 L717.1 459.8 L719.6 463.7 L722.1 467.5 L724.6 471.4 L727 475.3 L729.4 479.2 L731.8 483 L734.2 486.9 L736.5 490.9 L738.8 494.8 L741.1 498.7 L743.3 502.6 L745.6 506.5 L747.8 510.4 L749.9 514.3 L752.1 518.2 L754.2 522.1 L756.3 526 L758.4 529.9 L760.4 533.7 L762.4 537.6 L764.4 541.5 L766.4 545.3 L768.4 549.2 L770.3 553 L772.2 556.9 L774.1 560.7 L776 564.5 L777.8 568.3 L779.6 572.1 L781.3 576 L783 579.8 L784.6 583.6 L786.2 587.4 L787.7 591.3 L789.2 595.1 L790.6 598.9 L792 602.7 L793.4 606.5 L794.8 610.3 L796.3 614 L797.8 617.7 L799.3 621.4 L800.8 625 L802.4 628.7 L803.9 632.3 L805.4 635.9 L806.9 639.5 L808.4 643.1 L809.8 646.7 L811.3 650.3 L812.7 653.8 L814 657.4 L815.4 661 L816.7 664.5 L818 668.1 L819.3 671.6 L820.5 675.1 L821.8 678.7 L823 682.2 L824.2 685.7 L825.4 689.2 L826.5 692.7 L827.6 696.2 L828.7 699.7 L829.8 703.1 L830.9 706.6 L832 710 L833.1 713.5 L834.1 716.9 L835.2 720.3 L836.3 723.8 L837.3 727.2 L838.4 730.6 L839.5 733.9 L840.5 737.3 L841.6 740.7 L842.7 744.1 L843.7 747.4 L844.8 750.8 L845.8 754.1 L846.9 757.4 L848 760.8 L849 764.1 L850.1 767.4 L851.1 770.7 L852.2 774 L853.2 777.3 L854.3 780.6 L855.3 783.9 L856.4 787.2 L857.4 790.5 L858.5 793.8 L859.5 797.1 L860.5 800.4 L861.6 803.7 L862.6 807 L863.6 810.3 L864.6 813.6 L865.7 816.8 L866.7 820.1 L867.7 823.4 L868.7 826.7 L869.7 830 L870.7 833.3 L871.7 836.7 L872.7 840 L873.7 843.3 L874.7 846.6 L875.6 850 L876.6 853.3 L877.6 856.7 L878.5 860 L879.1 862.3M555.1 274.5 L558.2 275.7 L561.4 276.9 L564.6 278.1 L567.8 279.3 L571.1 280.6 L574.3 281.8 L577.5 283.1 L580.7 284.3 L583.9 285.6 L587.2 286.8 L590.4 288.1 L593.6 289.4 L596.9 290.7 L600.1 292 L603.3 293.3 L606.6 294.7 L609.8 296.1 L613 297.5 L616.3 298.9 L619.5 300.3 L622.7 301.7 L626 303.1 L629.2 304.6 L632.4 306.2 L635.6 307.8 L638.8 309.5 L642 311.3 L645.2 313.1 L648.4 314.9 L651.6 316.8 L654.7 318.7 L657.9 320.7 L661.1 322.7 L664.2 324.7 L667.3 326.8 L670.4 329 L673.5 331.2 L676.6 333.5 L679.7 335.9 L682.7 338.4 L685.7 340.9 L688.8 343.6 L691.8 346.2 L694.7 349 L697.7 351.7 L700.7 354.5 L703.7 357.2 L706.7 360 L709.6 362.7 L712.6 365.5 L715.6 368.4 L718.5 371.4 L721.4 374.4 L724.3 377.6 L727.1 380.9 L729.9 384.3 L732.6 387.8 L735.3 391.4 L737.9 395.1 L740.5 398.9 L743 402.7 L745.6 406.5 L748.1 410.4 L750.6 414.2 L753.1 418.1 L755.5 421.9 L757.9 425.8 L760.3 429.7 L762.7 433.6 L765 437.5 L767.3 441.4 L769.6 445.3 L771.9 449.2 L774.1 453.1 L776.3 457.1 L778.5 461 L780.6 464.9 L782.8 468.8 L784.9 472.6 L787 476.5 L789 480.4 L791 484.3 L793.1 488.2 L795 492 L797 495.9 L799 499.7 L800.9 503.5 L802.8 507.4 L804.7 511.2 L806.5 515 L808.3 518.8 L810 522.6 L811.7 526.5 L813.4 530.3 L815 534.1 L816.5 537.9 L818 541.8 L819.4 545.6 L820.8 549.4 L822.2 553.2 L823.6 557 L825.1 560.7 L826.5 564.4 L828 568.1 L829.6 571.8 L831.1 575.4 L832.7 579 L834.2 582.7 L835.7 586.3 L837.2 589.9 L838.6 593.4 L840.1 597 L841.5 600.6 L842.9 604.2 L844.2 607.7 L845.5 611.3 L846.9 614.8 L848.1 618.4 L849.4 621.9 L850.6 625.5 L851.9 629 L853.1 632.5 L854.2 636 L855.4 639.5 L856.5 643 L857.6 646.5 L858.7 649.9 L859.8 653.4 L860.9 656.9 L862 660.3 L863.1 663.7 L864.1 667.2 L865.2 670.6 L866.3 674 L867.3 677.4 L868.4 680.8 L869.5 684.2 L870.5 687.5 L871.6 690.9 L872.7 694.3 L873.7 697.6 L874.8 700.9 L875.8 704.3 L876.9 707.6 L877.9 710.9 L879 714.3 L880.1 717.6 L881.1 720.9 L882.2 724.2 L883.2 727.5 L884.3 730.8 L885.3 734.1 L886.3 737.4 L887.4 740.7 L888.4 744 L889.5 747.3 L890.5 750.5 L891.5 753.8 L892.6 757.1 L893.6 760.4 L894.6 763.7 L895.6 767 L896.6 770.3 L897.6 773.6 L898.7 776.9 L899.7 780.2 L900.7 783.5 L901.6 786.8 L902.6 790.1 L903.6 793.5 L904.6 796.8 L905.6 800.1 L906.5 803.5 L907.5 806.9 L908.4 810.2 L908.4 810.2M740.7 279.9 L743 282 L745.9 284.8 L748.9 287.5 L751.9 290.3 L754.9 293.1 L757.8 296 L760.7 299 L763.6 302.1 L766.5 305.3 L769.3 308.7 L772.1 312.1 L774.8 315.7 L777.4 319.3 L780 323 L782.6 326.8 L785.2 330.6 L787.7 334.5 L790.2 338.3 L792.7 342.1 L795.1 346 L797.6 349.9 L800 353.8 L802.4 357.7 L804.7 361.6 L807 365.5 L809.3 369.4 L811.6 373.3 L813.9 377.2 L816.1 381.1 L818.3 385 L820.5 388.9 L822.6 392.8 L824.7 396.7 L826.8 400.6 L828.9 404.5 L831 408.4 L833 412.2 L835 416.1 L837 419.9 L838.9 423.8 L840.9 427.6 L842.8 431.5 L844.7 435.3 L846.5 439.1 L848.4 442.9 L850.1 446.8 L851.9 450.6 L853.6 454.4 L855.2 458.2 L856.8 462 L858.3 465.9 L859.7 469.7 L861.1 473.5 L862.5 477.3 L863.9 481.1 L865.4 484.9 L866.8 488.6 L868.3 492.3 L869.8 496 L871.4 499.7 L872.9 503.3 L874.4 506.9 L876 510.5 L877.5 514.1 L878.9 517.7 L880.4 521.3 L881.8 524.9 L883.2 528.5 L884.6 532 L885.9 535.6 L887.2 539.1 L888.5 542.7 L889.8 546.2 L891.1 549.8 L892.3 553.3 L893.5 556.8 L894.7 560.3 L895.9 563.8 L897 567.3 L898.2 570.8 L899.3 574.3 L900.4 577.7 L901.5 581.2 L902.5 584.7 L903.6 588.1 L904.7 591.5 L905.7 595 L906.8 598.4 L907.9 601.8 L908.9 605.2 L910 608.6 L911.1 611.9 L912.1 615.3 L913.2 618.7 L914.3 622 L915.3 625.4 L916.4 628.7 L917.4 632 L918.5 635.4 L919.6 638.7 L920.6 642 L921.7 645.3 L922.7 648.6 L923.8 651.9 L924.8 655.2 L925.9 658.5 L926.9 661.8 L928 665.1 L929 668.4 L930 671.7 L931.1 675 L932.1 678.3 L933.1 681.6 L934.2 684.9 L935.2 688.2 L936.2 691.5 L937.2 694.7 L938.2 698 L939.2 701.3 L940.3 704.6 L941.3 708 L942.2 711.3 L943.2 714.6 L944.2 717.9 L945.2 721.2 L946.2 724.6 L947.1 727.9 L948.1 731.3 L949 734.6 L949.7 736.9" fill="none" stroke="#35429b" stroke-width="0.65"/>
<path d="M150 825.3 L153.8 825.4 L157.7 825.5 L161.5 825.5 L165.3 825.6 L169.1 825.6 L173 825.7 L176.8 825.7 L180.7 825.7 L184.5 825.7 L188.4 825.7 L192.2 825.6 L196.1 825.6 L199.9 825.6 L203.8 825.6 L207.6 825.6 L211.5 825.6 L215.4 825.5 L219.2 825.5 L223.1 825.5 L226.9 825.6 L230.8 825.6 L234.6 825.6 L238.4 825.7 L242.3 825.8 L246.1 825.9 L249.9 826 L253.7 826.1 L257.6 826.3 L261.4 826.4 L265.2 826.6 L269 826.8 L272.7 827.1 L276.5 827.4 L280.3 827.7 L284 828 L287.8 828.4 L291.5 828.8 L295.2 829.2 L296.4 829.4M220.3 700.3 L224.1 700.4 L228 700.5 L231.8 700.6 L235.6 700.6 L239.4 700.7 L243.3 700.7 L247.1 700.7 L251 700.7 L254.8 700.7 L258.7 700.7 L262.5 700.7 L266.4 700.7 L270.2 700.6 L274.1 700.6 L277.9 700.6 L281.8 700.6 L285.7 700.6 L289.5 700.6 L293.4 700.6 L297.2 700.6 L301.1 700.6 L304.9 700.7 L308.7 700.7 L312.6 700.8 L316.4 700.9 L320.2 701 L324 701.1 L327.9 701.3 L331.7 701.5 L335.5 701.7 L339.3 701.9 L343 702.1 L346.8 702.4 L350.6 702.7 L354.3 703 L358.1 703.4 L361.8 703.8 L365.5 704.3 L369.2 704.7 L372.9 705.3 L376.6 705.8 L380.3 706.4 L383.9 707.1 L387.6 707.8 L391.2 708.5 L394.8 709.2 L398.4 710 L402 710.9 L405.6 711.8 L409.1 712.8 L412.7 713.9 L416.2 715.1 L419.7 716.4 L423.2 717.7 L426.7 719 L430.2 720.4 L433.6 721.9 L437 723.5 L440.4 725.1 L443.8 726.7 L447.2 728.4 L450.5 730.3 L453.8 732.2 L457.1 734.2 L460.3 736.3 L463.6 738.5 L466.8 740.8 L470 743.2 L473.1 745.6 L476.3 748 L479.4 750.5 L482.5 753 L485.6 755.5 L488.7 758.1 L491.8 760.7 L494.9 763.4 L497.9 766.3 L500.9 769.2 L503.8 772.3 L506.7 775.5 L509.5 778.9 L512.2 782.4 L514.9 786 L517.5 789.8 L520 793.6 L522.5 797.4 L525 801.3 L527.5 805.3 L529.8 809.3 L532.2 813.4 L534.5 817.6 L536.7 821.7 L538.9 826 L541 830.3 L543.1 834.6 L545.1 839 L547.1 843.4 L549.1 847.9 L551 852.4 L552.8 856.9 L554.7 861.4 L556.4 866 L558.2 870.5 L559.9 875.2 L561.5 879.8 L563.1 884.4 L564.7 889.1 L566.2 893.8 L567.8 898.5 L569.2 903.2 L570.7 907.9 L572.1 912.7 L573.5 917.4 L574.8 922.2 L576.1 927 L577.3 931.8 L578.5 936.6 L579.6 941.4 L580.6 946.3 L581.6 951.1 L582.5 956 L583.4 960.9 L584.2 965.8 L585 970.7 L585.7 975.6 L586.5 980.5 L587.3 985.4 L588.2 990.3 L589 995.1 L589.9 999.9 L590.8 1004.7 L591.7 1009.5 L592.5 1014.3 L593.4 1019.1 L594.1 1023.9 L594.9 1028.7 L595.6 1033.5 L596.3 1038.3 L597 1043.1 L597.7 1047.9 L598.3 1052.7 L598.6 1055M290.6 575.3 L294.4 575.5 L298.3 575.5 L302.1 575.6 L305.9 575.7 L309.7 575.7 L313.6 575.7 L317.4 575.7 L321.3 575.7 L325.1 575.7 L329 575.7 L332.8 575.7 L336.7 575.7 L340.5 575.7 L344.4 575.7 L348.2 575.6 L352.1 575.6 L356 575.6 L359.8 575.6 L363.7 575.6 L367.5 575.6 L371.4 575.7 L375.2 575.7 L379 575.8 L382.9 575.8 L386.7 575.9 L390.5 576 L394.3 576.2 L398.2 576.3 L402 576.5 L405.8 576.7 L409.6 576.9 L413.3 577.2 L417.1 577.5 L420.9 577.8 L424.6 578.1 L428.4 578.5 L432.1 578.9 L435.8 579.3 L439.5 579.8 L443.2 580.3 L446.9 580.9 L450.6 581.5 L454.2 582.1 L457.9 582.8 L461.5 583.5 L465.1 584.2 L468.7 585 L472.3 585.9 L475.9 586.8 L479.4 587.9 L483 589 L486.5 590.2 L490 591.4 L493.5 592.7 L497 594.1 L500.5 595.5 L503.9 597 L507.3 598.5 L510.7 600.1 L514.1 601.8 L517.5 603.5 L520.8 605.3 L524.1 607.2 L527.4 609.2 L530.6 611.3 L533.9 613.5 L537.1 615.8 L540.3 618.2 L543.4 620.6 L546.6 623.1 L549.7 625.6 L552.8 628 L555.9 630.6 L559 633.1 L562.1 635.8 L565.2 638.5 L568.2 641.3 L571.2 644.3 L574.1 647.4 L577 650.6 L579.8 653.9 L582.5 657.4 L585.2 661.1 L587.8 664.8 L590.3 668.6 L592.8 672.5 L595.3 676.4 L597.8 680.3 L600.1 684.4 L602.5 688.5 L604.8 692.6 L607 696.8 L609.2 701 L611.3 705.3 L613.4 709.7 L615.4 714 L617.4 718.5 L619.4 722.9 L621.3 727.4 L623.1 731.9 L625 736.4 L626.7 741 L628.5 745.6 L630.2 750.2 L631.8 754.8 L633.4 759.5 L635 764.1 L636.5 768.8 L638.1 773.5 L639.5 778.2 L641 783 L642.4 787.7 L643.8 792.4 L645.1 797.2 L646.4 802 L647.6 806.8 L648.8 811.6 L649.9 816.4 L650.9 821.3 L651.9 826.2 L652.8 831.1 L653.7 836 L654.5 840.9 L655.3 845.8 L656 850.7 L656.8 855.6 L657.6 860.4 L658.5 865.3 L659.3 870.1 L660.2 875 L661.1 879.8 L662 884.6 L662.8 889.4 L663.7 894.2 L664.4 899 L665.2 903.8 L665.9 908.6 L666.6 913.4 L667.3 918.2 L668 923 L668.6 927.8 L669.2 932.6 L669.8 937.4 L670.3 942.2 L670.8 947 L671.3 951.7 L671.8 956.5 L672.3 961.3 L672.7 966.1 L673.1 970.8 L673.5 975.6 L673.9 980.4 L674.2 985.1 L674.6 989.9 L674.9 994.6 L675.3 999.3 L675.6 1004 L675.9 1008.7 L676.3 1013.4 L676.6 1018.1 L677 1022.8 L677.3 1027.5 L677.6 1032.1 L678 1036.8 L678.3 1041.4 L678.6 1046.1 L679 1050.7 L679.3 1055.3 L679.7 1059.9 L680 1064.5 L680.3 1069.1 L680.7 1073.7 L681 1078.3 L681.3 1082.9 L681.7 1087.4 L682 1092 L682.4 1096.5 L682.7 1101.1 L683.1 1105.6 L683.4 1110.1 L683.7 1114.6 L684.1 1119.1 L684.5 1123.6 L684.8 1128.1 L685.2 1132.6 L685.5 1137.1 L685.9 1141.5 L686.2 1146 L686.6 1150.4 L687 1154.9 L687.3 1159.3 L687.7 1163.7 L688.1 1168.1 L688.4 1172.6 L688.8 1177 L689.2 1181.4 L689.6 1185.7 L690 1190.1 L690.3 1194.5 L690.6 1197.4M360.9 450.4 L364.7 450.5 L368.6 450.6 L372.4 450.7 L376.2 450.7 L380 450.7 L383.9 450.8 L387.7 450.8 L391.6 450.8 L395.4 450.8 L399.3 450.8 L403.1 450.8 L407 450.7 L410.8 450.7 L414.7 450.7 L418.5 450.7 L422.4 450.7 L426.3 450.7 L430.1 450.7 L434 450.7 L437.8 450.7 L441.7 450.7 L445.5 450.8 L449.3 450.8 L453.2 450.9 L457 451 L460.8 451.1 L464.6 451.2 L468.5 451.4 L472.3 451.5 L476.1 451.7 L479.9 452 L483.6 452.2 L487.4 452.5 L491.2 452.8 L494.9 453.1 L498.7 453.5 L502.4 453.9 L506.1 454.3 L509.8 454.8 L513.5 455.4 L517.2 455.9 L520.9 456.5 L524.5 457.2 L528.2 457.8 L531.8 458.5 L535.4 459.3 L539 460.1 L542.6 460.9 L546.2 461.9 L549.7 462.9 L553.3 464 L556.8 465.2 L560.3 466.4 L563.8 467.7 L567.3 469.1 L570.8 470.5 L574.2 472 L577.6 473.5 L581 475.1 L584.4 476.8 L587.8 478.5 L591.1 480.3 L594.4 482.2 L597.7 484.3 L600.9 486.4 L604.2 488.6 L607.4 490.9 L610.6 493.2 L613.7 495.7 L616.9 498.1 L620 500.6 L623.1 503.1 L626.2 505.6 L629.3 508.2 L632.4 510.8 L635.5 513.5 L638.5 516.4 L641.5 519.3 L644.4 522.4 L647.3 525.6 L650.1 529 L652.8 532.5 L655.5 536.1 L658.1 539.8 L660.6 543.6 L663.1 547.5 L665.6 551.4 L668.1 555.4 L670.4 559.4 L672.8 563.5 L675.1 567.6 L677.3 571.8 L679.5 576.1 L681.6 580.4 L683.7 584.7 L685.7 589.1 L687.7 593.5 L689.7 598 L691.6 602.4 L693.4 606.9 L695.3 611.5 L697 616 L698.8 620.6 L700.5 625.2 L702.1 629.9 L703.7 634.5 L705.3 639.2 L706.8 643.9 L708.4 648.6 L709.8 653.3 L711.3 658 L712.7 662.7 L714.1 667.5 L715.4 672.3 L716.7 677 L717.9 681.8 L719.1 686.6 L720.2 691.5 L721.2 696.3 L722.2 701.2 L723.1 706.1 L724 711 L724.8 715.9 L725.6 720.8 L726.3 725.7 L727.1 730.6 L727.9 735.5 L728.8 740.3 L729.6 745.2 L730.5 750 L731.4 754.8 L732.3 759.6 L733.1 764.4 L734 769.2 L734.7 774 L735.5 778.8 L736.2 783.6 L736.9 788.4 L737.6 793.2 L738.3 798 L738.9 802.8 L739.5 807.6 L740.1 812.4 L740.6 817.2 L741.1 822 L741.6 826.8 L742.1 831.6 L742.6 836.3 L743 841.1 L743.4 845.9 L743.8 850.6 L744.2 855.4 L744.5 860.2 L744.9 864.9 L745.2 869.6 L745.6 874.4 L745.9 879.1 L746.2 883.8 L746.6 888.5 L746.9 893.2 L747.3 897.8 L747.6 902.5 L747.9 907.2 L748.3 911.8 L748.6 916.5 L748.9 921.1 L749.3 925.7 L749.6 930.4 L750 935 L750.3 939.6 L750.6 944.2 L751 948.8 L751.3 953.3 L751.6 957.9 L752 962.5 L752.3 967 L752.7 971.6 L753 976.1 L753.4 980.6 L753.7 985.2 L754 989.7 L754.4 994.2 L754.8 998.7 L755.1 1003.2 L755.5 1007.6 L755.8 1012.1 L756.2 1016.6 L756.5 1021 L756.9 1025.5 L757.3 1029.9 L757.6 1034.3 L758 1038.8 L758.4 1043.2 L758.7 1047.6 L759.1 1052 L759.5 1056.4 L759.9 1060.8 L760.3 1065.2 L760.6 1069.5 L760.9 1072.4M431.2 325.4 L435 325.5 L438.9 325.6 L442.7 325.7 L446.5 325.7 L450.3 325.8 L454.2 325.8 L458 325.8 L461.9 325.8 L465.7 325.8 L469.6 325.8 L473.4 325.8 L477.3 325.8 L481.1 325.8 L485 325.7 L488.8 325.7 L492.7 325.7 L496.6 325.7 L500.4 325.7 L504.3 325.7 L508.1 325.7 L512 325.8 L515.8 325.8 L519.6 325.9 L523.5 325.9 L527.3 326 L531.1 326.1 L534.9 326.3 L538.8 326.4 L542.6 326.6 L546.4 326.8 L550.2 327 L553.9 327.3 L557.7 327.5 L561.5 327.8 L565.2 328.2 L569 328.5 L572.7 328.9 L576.4 329.4 L580.1 329.9 L583.8 330.4 L587.5 331 L591.2 331.6 L594.8 332.2 L598.5 332.9 L602.1 333.6 L605.7 334.3 L609.3 335.1 L612.9 336 L616.5 336.9 L620 338 L623.6 339.1 L627.1 340.2 L630.6 341.5 L634.1 342.8 L637.6 344.1 L641.1 345.6 L644.5 347 L647.9 348.6 L651.3 350.2 L654.7 351.8 L658.1 353.6 L661.4 355.4 L664.7 357.3 L668 359.3 L671.2 361.4 L674.5 363.6 L677.7 365.9 L680.9 368.3 L684 370.7 L687.2 373.2 L690.3 375.6 L693.4 378.1 L696.5 380.6 L699.6 383.2 L702.7 385.8 L705.8 388.6 L708.8 391.4 L711.8 394.4 L714.7 397.4 L717.6 400.7 L720.4 404 L723.1 407.5 L725.8 411.1 L728.4 414.9 L730.9 418.7 L733.4 422.5 L735.9 426.5 L738.4 430.4 L740.7 434.4 L743.1 438.5 L745.4 442.7 L747.6 446.9 L749.8 451.1 L751.9 455.4 L754 459.8 L756 464.1 L758 468.5 L760 473 L761.9 477.5 L763.7 482 L765.6 486.5 L767.3 491.1 L769.1 495.7 L770.8 500.3 L772.4 504.9 L774 509.5 L775.6 514.2 L777.1 518.9 L778.7 523.6 L780.1 528.3 L781.6 533 L783 537.8 L784.4 542.5 L785.7 547.3 L787 552.1 L788.2 556.9 L789.4 561.7 L790.5 566.5 L791.5 571.4 L792.5 576.2 L793.4 581.1 L794.3 586 L795.1 590.9 L795.9 595.9 L796.6 600.8 L797.4 605.7 L798.2 610.5 L799.1 615.4 L799.9 620.2 L800.8 625 L801.7 629.8 L802.6 634.6 L803.4 639.4 L804.3 644.2 L805 649 L805.8 653.9 L806.5 658.7 L807.2 663.5 L807.9 668.3 L808.6 673.1 L809.2 677.9 L809.8 682.7 L810.4 687.5 L810.9 692.3 L811.4 697 L811.9 701.8 L812.4 706.6 L812.9 711.4 L813.3 716.2 L813.7 720.9 L814.1 725.7 L814.5 730.4 L814.8 735.2 L815.2 739.9 L815.5 744.7 L815.9 749.4 L816.2 754.1 L816.5 758.8 L816.9 763.5 L817.2 768.2 L817.6 772.9 L817.9 777.6 L818.2 782.2 L818.6 786.9 L818.9 791.5 L819.2 796.2 L819.6 800.8 L819.9 805.4 L820.3 810 L820.6 814.6 L820.9 819.2 L821.3 823.8 L821.6 828.4 L821.9 833 L822.3 837.5 L822.6 842.1 L823 846.6 L823.3 851.1 L823.7 855.7 L824 860.2 L824.3 864.7 L824.7 869.2 L825.1 873.7 L825.4 878.2 L825.8 882.7 L826.1 887.1 L826.5 891.6 L826.8 896.1 L827.2 900.5 L827.6 905 L827.9 909.4 L828.3 913.8 L828.7 918.2 L829 922.6 L829.4 927 L829.8 931.4 L830.2 935.8 L830.6 940.2 L830.9 944.6 L831.2 947.5M814.1 314.8 L815.7 317.7 L817.9 321.9 L820.1 326.2 L822.2 330.5 L824.3 334.8 L826.3 339.2 L828.3 343.6 L830.3 348 L832.2 352.5 L834 357 L835.9 361.6 L837.6 366.1 L839.4 370.7 L841.1 375.3 L842.7 379.9 L844.3 384.6 L845.9 389.3 L847.4 393.9 L849 398.6 L850.4 403.3 L851.9 408.1 L853.3 412.8 L854.7 417.6 L856 422.3 L857.3 427.1 L858.5 431.9 L859.7 436.7 L860.8 441.6 L861.8 446.4 L862.8 451.3 L863.7 456.2 L864.6 461.1 L865.4 466 L866.2 470.9 L866.9 475.8 L867.7 480.7 L868.5 485.6 L869.4 490.4 L870.2 495.3 L871.1 500.1 L872 504.9 L872.9 509.7 L873.7 514.5 L874.6 519.3 L875.3 524.1 L876.1 528.9 L876.8 533.7 L877.5 538.5 L878.2 543.3 L878.9 548.1 L879.5 552.9 L880.1 557.7 L880.7 562.5 L881.2 567.3 L881.7 572.1 L882.2 576.9 L882.7 581.6 L883.2 586.4 L883.6 591.2 L884 596 L884.4 600.7 L884.8 605.5 L885.1 610.2 L885.5 615 L885.8 619.7 L886.2 624.4 L886.5 629.2 L886.8 633.9 L887.2 638.6 L887.5 643.2 L887.9 647.9 L888.2 652.6 L888.5 657.3 L888.9 661.9 L889.2 666.6 L889.5 671.2 L889.9 675.8 L890.2 680.5 L890.6 685.1 L890.9 689.7 L891.2 694.3 L891.6 698.8 L891.9 703.4 L892.2 708 L892.6 712.6 L892.9 717.1 L893.3 721.7 L893.6 726.2 L894 730.7 L894.3 735.2 L894.6 739.7 L895 744.3 L895.4 748.7 L895.7 753.2 L896.1 757.7 L896.4 762.2 L896.8 766.6 L897.1 771.1 L897.5 775.6 L897.9 780 L898.2 784.4 L898.6 788.8 L899 793.3 L899.3 797.7 L899.7 802.1 L900.1 806.5 L900.5 810.9 L900.9 815.2 L901.2 819.6 L901.5 822.5" fill="none" stroke="#dc5f28" stroke-width="0.65"/>
<path d="M140 843.1 L145.4 842.6 L150.9 842.1 L156.3 841.6 L161.8 841 L167.2 840.5 L172.6 840 L178.1 839.4 L183.5 838.9 L188.9 838.3 L194.4 837.8 L199.8 837.2 L205.2 836.7 L210.7 836.1 L216.1 835.6 L221.6 835.1 L227 834.5 L232.4 834 L237.9 833.6 L243.3 833.1 L248.8 832.6 L254.2 832.2 L259.7 831.8 L265.1 831.4 L270.6 831 L276 830.6 L281.5 830.2 L286.9 829.9 L292.4 829.6 L297.8 829.3 L303.3 829.1 L308.7 828.8 L314.2 828.6 L319.7 828.5 L325.1 828.3 L330.6 828.2 L336.1 828.1 L341.5 828.1 L347 828.3 L352.4 828.5 L357.9 828.8 L363.4 829.1 L368.8 829.5 L374.3 829.9 L379.7 830.4 L385.1 831 L390.6 831.6 L396 832.4 L401.4 833.2 L406.7 834.2 L412.1 835.3 L417.4 836.6 L422.7 837.8 L428 839.1 L433.3 840.4 L438.7 841.7 L443.9 843.1 L449.2 844.6 L454.4 846.3 L459.5 848.3 L464.5 850.4 L469.4 852.8 L474.2 855.5 L478.9 858.3 L483.5 861.3 L488 864.4 L492.4 867.7 L496.7 871 L500.9 874.5 L505 878.2 L509 881.9 L512.8 885.7 L516.6 889.7 L520.3 893.7 L523.9 897.8 L527.5 902 L530.9 906.3 L534.2 910.6 L537.4 915 L540.6 919.4 L543.7 924 L546.7 928.5 L549.6 933.1 L552.5 937.8 L555.3 942.5 L558 947.3 L560.6 952.1 L563.1 956.9 L565.5 961.8 L567.8 966.8 L569.9 971.8 L572 976.9 L573.9 982 L575.7 987.2 L577.5 992.3 L579.4 997.5 L581.2 1002.6 L583.1 1007.7 L585 1012.9 L586.9 1018 L588.8 1023.1 L590.5 1028.3 L592.2 1033.5 L593.9 1038.7 L595.4 1043.9 L597 1049.2 L598.4 1054.5 L599.8 1059.7 L601.2 1065 L602.5 1070.3 L603.7 1075.7 L604.9 1081 L606.1 1086.3 L607.2 1091.7 L608.2 1097 L609.2 1102.4 L610.2 1107.8 L611.2 1113.2 L612.2 1118.5 L613.1 1123.9 L614.1 1129.3 L615 1134.7 L615.9 1140.1 L616.8 1145.5 L617.7 1150.9 L618.6 1156.2 L619.5 1161.6 L620.4 1167 L621.2 1172.4 L622.1 1177.8 L622.9 1183.2 L623.8 1188.6 L624.6 1194 L625.4 1199.4 L626.3 1204.8 L627.1 1210.2 L627.9 1215.6 L628.7 1221 L629.5 1226.4 L630.3 1231.8 L631.1 1237.2 L631.9 1242.7 L632.6 1248.1 L633.4 1253.5 L634.2 1258.9 L634.9 1264.3 L635.7 1269.7 L636.4 1275.1 L637.2 1280.5 L637.9 1285.9 L638.5 1290M195.7 744.2 L201.1 743.7 L206.5 743.1 L212 742.6 L217.4 742.1 L222.9 741.6 L228.3 741 L233.7 740.5 L239.2 739.9 L244.6 739.4 L250 738.8 L255.5 738.3 L260.9 737.7 L266.3 737.2 L271.8 736.6 L277.2 736.1 L282.7 735.6 L288.1 735.1 L293.5 734.6 L299 734.1 L304.4 733.7 L309.9 733.3 L315.3 732.8 L320.8 732.4 L326.2 732 L331.7 731.6 L337.1 731.3 L342.6 730.9 L348 730.6 L353.5 730.4 L359 730.1 L364.4 729.9 L369.9 729.7 L375.3 729.5 L380.8 729.4 L386.3 729.2 L391.7 729.2 L397.2 729.2 L402.6 729.3 L408.1 729.5 L413.6 729.8 L419 730.1 L424.5 730.5 L429.9 731 L435.4 731.5 L440.8 732 L446.2 732.7 L451.6 733.4 L457 734.3 L462.4 735.3 L467.8 736.4 L473.1 737.6 L478.4 738.9 L483.7 740.2 L489 741.5 L494.3 742.8 L499.6 744.2 L504.9 745.7 L510.1 747.4 L515.2 749.3 L520.2 751.5 L525.1 753.9 L529.9 756.5 L534.6 759.4 L539.1 762.4 L543.6 765.5 L548 768.7 L552.3 772.1 L556.5 775.6 L560.6 779.2 L564.6 783 L568.5 786.8 L572.3 790.7 L576 794.8 L579.6 798.9 L583.1 803.1 L586.5 807.3 L589.9 811.7 L593.1 816 L596.3 820.5 L599.4 825 L602.4 829.6 L605.3 834.2 L608.2 838.9 L610.9 843.6 L613.7 848.3 L616.3 853.1 L618.8 858 L621.2 862.9 L623.5 867.9 L625.6 872.9 L627.6 878 L629.5 883.1 L631.4 888.2 L633.2 893.4 L635 898.5 L636.9 903.7 L638.8 908.8 L640.7 913.9 L642.6 919 L644.4 924.2 L646.2 929.4 L647.9 934.6 L649.5 939.8 L651.1 945 L652.6 950.2 L654.1 955.5 L655.5 960.8 L656.9 966.1 L658.2 971.4 L659.4 976.7 L660.6 982 L661.7 987.4 L662.8 992.7 L663.9 998.1 L664.9 1003.5 L665.9 1008.8 L666.9 1014.2 L667.8 1019.6 L668.8 1025 L669.7 1030.4 L670.7 1035.7 L671.6 1041.1 L672.5 1046.5 L673.4 1051.9 L674.3 1057.3 L675.2 1062.7 L676 1068.1 L676.9 1073.5 L677.8 1078.9 L678.6 1084.3 L679.5 1089.7 L680.3 1095.1 L681.1 1100.5 L681.9 1105.9 L682.7 1111.3 L683.6 1116.7 L684.4 1122.1 L685.2 1127.5 L685.9 1132.9 L686.7 1138.3 L687.5 1143.7 L688.3 1149.1 L689.1 1154.5 L689.8 1159.9 L690.6 1165.3 L691.4 1170.8 L692.1 1176.2 L692.9 1181.6 L693.6 1187 L694.2 1191.1M242.7 660.5 L248.2 660 L253.6 659.5 L259 659 L264.5 658.4 L269.9 657.9 L275.4 657.4 L280.8 656.8 L286.2 656.3 L291.7 655.7 L297.1 655.1 L302.5 654.6 L308 654.1 L313.4 653.5 L318.9 653 L324.3 652.5 L329.7 651.9 L335.2 651.4 L340.6 651 L346.1 650.5 L351.5 650 L356.9 649.6 L362.4 649.2 L367.8 648.8 L373.3 648.4 L378.7 648 L384.2 647.6 L389.6 647.3 L395.1 647 L400.6 646.7 L406 646.5 L411.5 646.2 L416.9 646 L422.4 645.9 L427.9 645.7 L433.3 645.6 L438.8 645.5 L444.2 645.5 L449.7 645.7 L455.2 645.9 L460.6 646.2 L466.1 646.5 L471.5 646.9 L477 647.3 L482.4 647.8 L487.9 648.4 L493.3 649 L498.7 649.8 L504.1 650.6 L509.5 651.6 L514.8 652.7 L520.1 654 L525.5 655.2 L530.8 656.5 L536.1 657.8 L541.4 659.1 L546.7 660.5 L551.9 662 L557.1 663.7 L562.2 665.7 L567.3 667.8 L572.2 670.2 L576.9 672.9 L581.6 675.7 L586.2 678.7 L590.7 681.8 L595.1 685.1 L599.4 688.4 L603.6 691.9 L607.7 695.6 L611.7 699.3 L615.6 703.1 L619.4 707.1 L623.1 711.1 L626.7 715.2 L630.2 719.4 L633.6 723.7 L636.9 728 L640.2 732.4 L643.3 736.8 L646.4 741.4 L649.4 745.9 L652.4 750.5 L655.2 755.2 L658 759.9 L660.7 764.7 L663.3 769.5 L665.8 774.3 L668.3 779.2 L670.5 784.2 L672.7 789.2 L674.7 794.3 L676.6 799.4 L678.4 804.6 L680.3 809.7 L682.1 814.9 L683.9 820 L685.9 825.1 L687.8 830.3 L689.6 835.4 L691.5 840.5 L693.2 845.7 L695 850.9 L696.6 856.1 L698.2 861.3 L699.7 866.6 L701.2 871.9 L702.6 877.1 L703.9 882.4 L705.2 887.7 L706.5 893.1 L707.7 898.4 L708.8 903.7 L709.9 909.1 L711 914.4 L712 919.8 L713 925.2 L713.9 930.6 L714.9 935.9 L715.9 941.3 L716.8 946.7 L717.7 952.1 L718.7 957.5 L719.6 962.9 L720.5 968.3 L721.4 973.6 L722.2 979 L723.1 984.4 L724 989.8 L724.8 995.2 L725.7 1000.6 L726.5 1006 L727.3 1011.4 L728.2 1016.8 L729 1022.2 L729.8 1027.6 L730.6 1033 L731.4 1038.4 L732.2 1043.8 L733 1049.2 L733.8 1054.6 L734.6 1060.1 L735.4 1065.5 L736.1 1070.9 L736.9 1076.3 L737.7 1081.7 L738.4 1087.1 L739.2 1092.5 L739.9 1097.9 L740.7 1103.3 L741.2 1107.4M283.5 588 L288.9 587.5 L294.4 587 L299.8 586.5 L305.3 586 L310.7 585.4 L316.1 584.9 L321.6 584.3 L327 583.8 L332.4 583.2 L337.9 582.7 L343.3 582.1 L348.7 581.6 L354.2 581 L359.6 580.5 L365.1 580 L370.5 579.5 L375.9 579 L381.4 578.5 L386.8 578 L392.3 577.6 L397.7 577.1 L403.2 576.7 L408.6 576.3 L414.1 575.9 L419.5 575.5 L425 575.2 L430.4 574.8 L435.9 574.5 L441.3 574.2 L446.8 574 L452.2 573.8 L457.7 573.6 L463.2 573.4 L468.6 573.2 L474.1 573.1 L479.6 573 L485 573.1 L490.5 573.2 L495.9 573.4 L501.4 573.7 L506.9 574 L512.3 574.4 L517.7 574.9 L523.2 575.4 L528.6 575.9 L534.1 576.6 L539.5 577.3 L544.9 578.2 L550.2 579.2 L555.6 580.3 L560.9 581.5 L566.2 582.8 L571.5 584.1 L576.8 585.3 L582.1 586.7 L587.4 588 L592.7 589.6 L597.9 591.3 L603 593.2 L608 595.4 L612.9 597.8 L617.7 600.4 L622.4 603.2 L627 606.2 L631.5 609.4 L635.9 612.6 L640.2 616 L644.4 619.5 L648.5 623.1 L652.4 626.8 L656.3 630.7 L660.1 634.6 L663.8 638.6 L667.4 642.7 L670.9 646.9 L674.4 651.2 L677.7 655.5 L680.9 659.9 L684.1 664.4 L687.2 668.9 L690.2 673.5 L693.1 678.1 L696 682.7 L698.8 687.5 L701.5 692.2 L704.1 697 L706.6 701.9 L709 706.8 L711.3 711.7 L713.4 716.8 L715.5 721.8 L717.4 727 L719.2 732.1 L721 737.3 L722.9 742.4 L724.7 747.6 L726.6 752.7 L728.5 757.8 L730.4 762.9 L732.2 768.1 L734 773.2 L735.7 778.4 L737.4 783.6 L738.9 788.9 L740.5 794.1 L741.9 799.4 L743.3 804.7 L744.7 810 L746 815.3 L747.2 820.6 L748.4 825.9 L749.6 831.3 L750.7 836.6 L751.7 842 L752.7 847.3 L753.7 852.7 L754.7 858.1 L755.7 863.5 L756.6 868.9 L757.6 874.2 L758.5 879.6 L759.4 885 L760.3 890.4 L761.2 895.8 L762.1 901.2 L763 906.6 L763.9 912 L764.7 917.4 L765.6 922.8 L766.4 928.2 L767.3 933.5 L768.1 938.9 L768.9 944.4 L769.8 949.8 L770.6 955.2 L771.4 960.6 L772.2 966 L773 971.4 L773.8 976.8 L774.6 982.2 L775.3 987.6 L776.1 993 L776.9 998.4 L777.7 1003.8 L778.4 1009.2 L779.2 1014.6 L779.9 1020 L780.7 1025.5 L781.4 1030.9 L782 1034.9M319.5 524.1 L324.9 523.6 L330.3 523.1 L335.8 522.6 L341.2 522.1 L346.7 521.5 L352.1 521 L357.5 520.4 L363 519.9 L368.4 519.3 L373.8 518.8 L379.3 518.2 L384.7 517.7 L390.1 517.1 L395.6 516.6 L401 516.1 L406.5 515.6 L411.9 515.1 L417.3 514.6 L422.8 514.1 L428.2 513.6 L433.7 513.2 L439.1 512.8 L444.6 512.4 L450 512 L455.5 511.6 L460.9 511.2 L466.4 510.9 L471.8 510.6 L477.3 510.3 L482.7 510.1 L488.2 509.8 L493.7 509.7 L499.1 509.5 L504.6 509.3 L510.1 509.2 L515.5 509.1 L521 509.1 L526.4 509.3 L531.9 509.5 L537.4 509.8 L542.8 510.1 L548.3 510.5 L553.7 510.9 L559.1 511.4 L564.6 512 L570 512.6 L575.4 513.4 L580.8 514.2 L586.2 515.2 L591.5 516.4 L596.9 517.6 L602.2 518.8 L607.5 520.1 L612.8 521.4 L618.1 522.7 L623.4 524.1 L628.6 525.6 L633.8 527.4 L639 529.3 L644 531.4 L648.9 533.8 L653.7 536.5 L658.4 539.3 L662.9 542.3 L667.4 545.5 L671.8 548.7 L676.1 552.1 L680.3 555.6 L684.4 559.2 L688.4 562.9 L692.3 566.7 L696.1 570.7 L699.8 574.7 L703.4 578.8 L706.9 583 L710.3 587.3 L713.7 591.6 L716.9 596 L720.1 600.5 L723.1 605 L726.2 609.5 L729.1 614.2 L731.9 618.8 L734.7 623.5 L737.4 628.3 L740.1 633.1 L742.6 638 L745 642.9 L747.3 647.8 L749.4 652.8 L751.4 657.9 L753.3 663 L755.2 668.2 L757 673.3 L758.8 678.5 L760.7 683.6 L762.6 688.8 L764.5 693.9 L766.4 699 L768.2 704.1 L770 709.3 L771.7 714.5 L773.3 719.7 L774.9 725 L776.4 730.2 L777.9 735.5 L779.3 740.7 L780.7 746 L782 751.3 L783.2 756.7 L784.4 762 L785.5 767.3 L786.6 772.7 L787.7 778.1 L788.7 783.4 L789.7 788.8 L790.7 794.2 L791.6 799.6 L792.6 804.9 L793.5 810.3 L794.5 815.7 L795.4 821.1 L796.3 826.5 L797.2 831.9 L798.1 837.3 L799 842.6 L799.8 848 L800.7 853.4 L801.6 858.8 L802.4 864.2 L803.2 869.6 L804.1 875 L804.9 880.4 L805.7 885.8 L806.5 891.2 L807.3 896.6 L808.2 902 L808.9 907.4 L809.7 912.9 L810.5 918.3 L811.3 923.7 L812.1 929.1 L812.9 934.5 L813.6 939.9 L814.4 945.3 L815.1 950.7 L815.9 956.1 L816.7 961.5 L817.4 967 L818 971M351.6 466.9 L357.1 466.4 L362.5 465.9 L367.9 465.4 L373.4 464.9 L378.8 464.3 L384.3 463.8 L389.7 463.2 L395.1 462.7 L400.6 462.1 L406 461.6 L411.4 461 L416.9 460.5 L422.3 459.9 L427.7 459.4 L433.2 458.9 L438.6 458.4 L444.1 457.9 L449.5 457.4 L455 456.9 L460.4 456.5 L465.8 456 L471.3 455.6 L476.7 455.2 L482.2 454.8 L487.6 454.4 L493.1 454.1 L498.5 453.7 L504 453.4 L509.5 453.1 L514.9 452.9 L520.4 452.7 L525.8 452.5 L531.3 452.3 L536.8 452.1 L542.2 452 L547.7 451.9 L553.1 452 L558.6 452.1 L564.1 452.3 L569.5 452.6 L575 452.9 L580.4 453.3 L585.9 453.8 L591.3 454.3 L596.8 454.8 L602.2 455.5 L607.6 456.2 L613 457.1 L618.4 458.1 L623.7 459.2 L629 460.4 L634.4 461.7 L639.7 463 L645 464.2 L650.3 465.6 L655.6 466.9 L660.8 468.5 L666 470.2 L671.1 472.1 L676.2 474.3 L681.1 476.7 L685.8 479.3 L690.5 482.2 L695.1 485.2 L699.6 488.3 L704 491.5 L708.3 494.9 L712.5 498.4 L716.6 502 L720.6 505.7 L724.5 509.6 L728.3 513.5 L732 517.5 L735.6 521.6 L739.1 525.8 L742.5 530.1 L745.8 534.4 L749.1 538.8 L752.2 543.3 L755.3 547.8 L758.3 552.4 L761.3 557 L764.1 561.6 L766.9 566.4 L769.6 571.1 L772.2 575.9 L774.7 580.8 L777.1 585.7 L779.4 590.6 L781.6 595.7 L783.6 600.7 L785.5 605.9 L787.3 611 L789.2 616.2 L791 621.3 L792.8 626.5 L794.7 631.6 L796.7 636.7 L798.5 641.8 L800.4 647 L802.1 652.1 L803.9 657.3 L805.5 662.5 L807.1 667.8 L808.6 673 L810.1 678.3 L811.5 683.6 L812.8 688.9 L814.1 694.2 L815.4 699.5 L816.6 704.8 L817.7 710.2 L818.8 715.5 L819.8 720.9 L820.9 726.2 L821.9 731.6 L822.8 737 L823.8 742.4 L824.8 747.8 L825.7 753.1 L826.6 758.5 L827.6 763.9 L828.5 769.3 L829.4 774.7 L830.3 780.1 L831.1 785.5 L832 790.9 L832.9 796.3 L833.7 801.7 L834.6 807.1 L835.4 812.5 L836.2 817.9 L837.1 823.3 L837.9 828.7 L838.7 834.1 L839.5 839.5 L840.3 844.9 L841.1 850.3 L841.9 855.7 L842.7 861.1 L843.5 866.5 L844.3 871.9 L845 877.3 L845.8 882.7 L846.6 888.1 L847.3 893.5 L848.1 898.9 L848.8 904.4 L849.6 909.8 L850.1 913.8M380.7 415.2 L386.2 414.7 L391.6 414.2 L397 413.7 L402.5 413.1 L407.9 412.6 L413.4 412.1 L418.8 411.5 L424.2 411 L429.7 410.4 L435.1 409.9 L440.5 409.3 L446 408.8 L451.4 408.2 L456.8 407.7 L462.3 407.2 L467.7 406.7 L473.2 406.2 L478.6 405.7 L484.1 405.2 L489.5 404.7 L494.9 404.3 L500.4 403.9 L505.8 403.5 L511.3 403.1 L516.7 402.7 L522.2 402.3 L527.6 402 L533.1 401.7 L538.6 401.4 L544 401.2 L549.5 400.9 L554.9 400.8 L560.4 400.6 L565.9 400.4 L571.3 400.3 L576.8 400.2 L582.2 400.2 L587.7 400.4 L593.2 400.6 L598.6 400.9 L604.1 401.2 L609.5 401.6 L615 402 L620.4 402.5 L625.9 403.1 L631.3 403.7 L636.7 404.5 L642.1 405.3 L647.5 406.3 L652.8 407.5 L658.1 408.7 L663.5 409.9 L668.8 411.2 L674.1 412.5 L679.4 413.8 L684.7 415.2 L689.9 416.7 L695.1 418.5 L700.2 420.4 L705.3 422.5 L710.2 424.9 L714.9 427.6 L719.6 430.4 L724.2 433.4 L728.7 436.5 L733.1 439.8 L737.4 443.2 L741.6 446.7 L745.7 450.3 L749.7 454 L753.6 457.8 L757.4 461.8 L761.1 465.8 L764.7 469.9 L768.2 474.1 L771.6 478.4 L774.9 482.7 L778.2 487.1 L781.3 491.6 L784.4 496.1 L787.4 500.6 L790.4 505.3 L793.2 509.9 L796 514.6 L798.7 519.4 L801.3 524.2 L803.8 529 L806.2 534 L808.5 538.9 L810.7 543.9 L812.7 549 L814.6 554.1 L816.4 559.3 L818.3 564.4 L820.1 569.6 L821.9 574.7 L823.8 579.9 L825.8 585 L827.6 590.1 L829.5 595.2 L831.2 600.4 L832.9 605.6 L834.6 610.8 L836.2 616.1 L837.7 621.3 L839.2 626.6 L840.6 631.8 L841.9 637.1 L843.2 642.4 L844.5 647.8 L845.7 653.1 L846.8 658.4 L847.9 663.8 L848.9 669.2 L850 674.5 L851 679.9 L851.9 685.3 L852.9 690.7 L853.9 696 L854.8 701.4 L855.7 706.8 L856.7 712.2 L857.6 717.6 L858.5 723 L859.4 728.4 L860.2 733.7 L861.1 739.1 L862 744.5 L862.8 749.9 L863.7 755.3 L864.5 760.7 L865.3 766.1 L866.2 771.5 L867 776.9 L867.8 782.3 L868.6 787.7 L869.4 793.1 L870.2 798.5 L871 804 L871.8 809.4 L872.6 814.8 L873.4 820.2 L874.1 825.6 L874.9 831 L875.7 836.4 L876.4 841.8 L877.2 847.2 L877.9 852.6 L878.7 858 L879.2 862.1M407.3 368 L412.7 367.5 L418.2 367 L423.6 366.5 L429 365.9 L434.5 365.4 L439.9 364.8 L445.4 364.3 L450.8 363.7 L456.2 363.2 L461.7 362.6 L467.1 362.1 L472.5 361.5 L478 361 L483.4 360.5 L488.9 359.9 L494.3 359.4 L499.7 358.9 L505.2 358.5 L510.6 358 L516.1 357.5 L521.5 357.1 L527 356.7 L532.4 356.2 L537.9 355.9 L543.3 355.5 L548.8 355.1 L554.2 354.8 L559.7 354.5 L565.1 354.2 L570.6 353.9 L576 353.7 L581.5 353.5 L587 353.4 L592.4 353.2 L597.9 353 L603.3 353 L608.8 353 L614.3 353.2 L619.7 353.4 L625.2 353.6 L630.6 354 L636.1 354.4 L641.5 354.8 L647 355.3 L652.4 355.9 L657.8 356.5 L663.3 357.3 L668.7 358.1 L674 359.1 L679.4 360.2 L684.7 361.4 L690 362.7 L695.3 364 L700.6 365.3 L705.9 366.6 L711.2 368 L716.5 369.5 L721.7 371.2 L726.8 373.2 L731.8 375.3 L736.7 377.7 L741.5 380.4 L746.2 383.2 L750.8 386.2 L755.3 389.3 L759.7 392.6 L764 395.9 L768.2 399.4 L772.2 403.1 L776.2 406.8 L780.1 410.6 L783.9 414.6 L787.6 418.6 L791.2 422.7 L794.7 426.9 L798.2 431.2 L801.5 435.5 L804.7 439.9 L807.9 444.3 L811 448.8 L814 453.4 L816.9 458 L819.8 462.7 L822.6 467.4 L825.3 472.2 L827.9 477 L830.4 481.8 L832.8 486.7 L835.1 491.7 L837.2 496.7 L839.2 501.8 L841.2 506.9 L843 512.1 L844.8 517.2 L846.6 522.4 L848.5 527.5 L850.4 532.6 L852.3 537.8 L854.2 542.9 L856 548 L857.8 553.2 L859.5 558.4 L861.2 563.6 L862.7 568.8 L864.3 574.1 L865.7 579.3 L867.1 584.6 L868.5 589.9 L869.8 595.2 L871 600.5 L872.2 605.9 L873.4 611.2 L874.5 616.6 L875.5 621.9 L876.5 627.3 L877.5 632.7 L878.5 638.1 L879.5 643.4 L880.4 648.8 L881.4 654.2 L882.3 659.6 L883.2 665 L884.1 670.4 L885 675.7 L885.9 681.1 L886.8 686.5 L887.7 691.9 L888.5 697.3 L889.4 702.7 L890.2 708.1 L891.1 713.5 L891.9 718.9 L892.7 724.3 L893.6 729.7 L894.4 735.1 L895.2 740.5 L896 745.9 L896.8 751.3 L897.6 756.7 L898.4 762.1 L899.1 767.5 L899.9 773 L900.7 778.4 L901.5 783.8 L902.2 789.2 L903 794.6 L903.7 800 L904.5 805.4 L905.2 810.8 L905.8 814.9M431.7 324.5 L437.2 324.1 L442.6 323.5 L448 323 L453.5 322.5 L458.9 321.9 L464.4 321.4 L469.8 320.9 L475.2 320.3 L480.7 319.8 L486.1 319.2 L491.5 318.7 L497 318.1 L502.4 317.6 L507.8 317 L513.3 316.5 L518.7 316 L524.2 315.5 L529.6 315 L535.1 314.5 L540.5 314.1 L545.9 313.6 L551.4 313.2 L556.8 312.8 L562.3 312.4 L567.7 312 L573.2 311.7 L578.6 311.3 L584.1 311 L589.6 310.8 L595 310.5 L600.5 310.3 L605.9 310.1 L611.4 309.9 L616.9 309.7 L622.3 309.6 L627.8 309.5 L633.2 309.6 L638.7 309.7 L644.2 309.9 L649.6 310.2 L655.1 310.5 L660.5 310.9 L666 311.4 L671.4 311.9 L676.9 312.4 L682.3 313.1 L687.7 313.8 L693.1 314.7 L698.5 315.7 L703.8 316.8 L709.1 318 L714.5 319.3 L719.8 320.6 L725.1 321.9 L730.4 323.2 L735.7 324.6 L740.9 326.1 L746.1 327.8 L751.2 329.7 L756.3 331.9 L761.2 334.3 L765.9 336.9 L770.6 339.8 L775.2 342.8 L779.7 345.9 L784.1 349.1 L788.4 352.5 L792.6 356 L796.7 359.6 L800.7 363.3 L804.6 367.2 L808.4 371.1 L812.1 375.2 L815.7 379.3 L819.2 383.5 L822.6 387.7 L825.9 392 L829.2 396.4 L832.3 400.9 L835.4 405.4 L838.4 410 L841.4 414.6 L844.2 419.3 L847 424 L849.7 428.7 L852.3 433.5 L854.8 438.4 L857.2 443.3 L859.5 448.3 L861.7 453.3 L863.7 458.4 L865.6 463.5 L867.4 468.6 L869.3 473.8 L871.1 478.9 L872.9 484.1 L874.8 489.2 L876.8 494.3 L878.6 499.4 L880.5 504.6 L882.2 509.8 L884 514.9 L885.6 520.2 L887.2 525.4 L888.7 530.6 L890.2 535.9 L891.6 541.2 L892.9 546.5 L894.2 551.8 L895.5 557.1 L896.7 562.4 L897.8 567.8 L898.9 573.1 L899.9 578.5 L901 583.9 L902 589.2 L902.9 594.6 L903.9 600 L904.9 605.4 L905.8 610.8 L906.7 616.1 L907.7 621.5 L908.6 626.9 L909.5 632.3 L910.4 637.7 L911.2 643.1 L912.1 648.5 L913 653.9 L913.8 659.3 L914.7 664.7 L915.5 670.1 L916.3 675.5 L917.2 680.9 L918 686.3 L918.8 691.7 L919.6 697.1 L920.4 702.5 L921.2 707.9 L922 713.3 L922.8 718.7 L923.6 724.1 L924.4 729.5 L925.1 734.9 L925.9 740.3 L926.7 745.7 L927.4 751.2 L928.2 756.6 L928.9 762 L929.7 767.4 L930.2 771.4M454.4 284.3 L459.8 283.8 L465.2 283.3 L470.7 282.8 L476.1 282.3 L481.5 281.7 L487 281.2 L492.4 280.6 L497.9 280.1 L503.3 279.5 L508.7 279 L514.2 278.4 L519.6 277.9 L525 277.3 L530.5 276.8 L535.9 276.3 L541.4 275.8 L546.8 275.3 L552.2 274.8 L557.7 274.3 L563.1 273.9 L568.6 273.4 L574 273 L579.5 272.6 L584.9 272.2 L590.4 271.8 L595.8 271.5 L601.3 271.1 L606.7 270.8 L612.2 270.5 L617.6 270.3 L623.1 270.1 L628.6 269.9 L634 269.7 L639.5 269.5 L644.9 269.4 L650.4 269.3 L655.9 269.4 L661.3 269.5 L666.8 269.7 L672.3 270 L677.7 270.3 L683.2 270.7 L688.6 271.2 L694 271.7 L699.5 272.2 L704.9 272.9 L710.3 273.6 L715.7 274.5 L721.1 275.5 L726.4 276.6 L731.8 277.8 L737.1 279.1 L742.4 280.4 L747.7 281.6 L753 282.9 L758.3 284.3 L763.5 285.9 L768.7 287.6 L773.9 289.5 L778.9 291.7 L783.8 294.1 L788.6 296.7 L793.2 299.5 L797.8 302.5 L802.3 305.7 L806.7 308.9 L811 312.3 L815.2 315.8 L819.3 319.4 L823.3 323.1 L827.2 327 L831 330.9 L834.7 334.9 L838.3 339 L841.8 343.2 L845.2 347.5 L848.6 351.8 L851.8 356.2 L855 360.7 L858 365.2 L861.1 369.8 L864 374.4 L866.8 379 L869.6 383.8 L872.3 388.5 L875 393.3 L877.5 398.2 L879.9 403.1 L882.2 408 L884.3 413.1 L886.3 418.1 L888.2 423.3 L890.1 428.4 L891.9 433.6 L893.7 438.7 L895.6 443.9 L897.5 449 L899.4 454.1 L901.3 459.2 L903.1 464.4 L904.9 469.5 L906.6 474.7 L908.2 479.9 L909.8 485.2 L911.3 490.4 L912.8 495.7 L914.2 501 L915.6 506.3 L916.9 511.6 L918.1 516.9 L919.3 522.2 L920.4 527.6 L921.5 532.9 L922.6 538.3 L923.6 543.6 L924.6 549 L925.6 554.4 L926.5 559.8 L927.5 565.2 L928.4 570.5 L929.4 575.9 L930.3 581.3 L931.2 586.7 L932.1 592.1 L933 597.5 L933.9 602.9 L934.7 608.3 L935.6 613.7 L936.5 619.1 L937.3 624.4 L938.1 629.8 L939 635.2 L939.8 640.6 L940.6 646.1 L941.4 651.5 L942.2 656.9 L943 662.3 L943.8 667.7 L944.6 673.1 L945.4 678.5 L946.2 683.9 L947 689.3 L947.8 694.7 L948.5 700.1 L949.3 705.5 L950 710.9 L950.8 716.3 L951.5 721.8 L952.3 727.2 L952.9 731.2" fill="none" stroke="#231815" stroke-width="1.05" stroke-linejoin="round"/>
<path d="M140 843.1 L486.2 229.3M271.5 830.9 L611 229.3M395.8 832.1 L735.6 229.3M499.4 873.3 L862.2 229.3M569.6 971 L976.3 246.2M611.6 1115.3 L976.3 468M638.5 1290 L976.3 690" fill="none" stroke="#231815" stroke-width="1.3"/>
<path d="M1088.5 731.2V1290M1072.8 1216.1H1088.5M1072.8 1132.4H1088.5M1072.8 1060H1088.5M1072.8 996H1088.5M1072.8 938.9H1088.5M1072.8 887.1H1088.5M1072.8 839.9H1088.5M1072.8 796.5H1088.5M1072.8 756.3H1088.5" fill="none" stroke="#231815" stroke-width="1.1"/>
<path d="M109.7 1414.2H977M155 1414.2V1422.2M366.6 1414.2V1429.7M490.4 1414.2V1422.2M578.2 1414.2V1429.7M646.4 1414.2V1422.2M702 1414.2V1429.7M749.1 1414.2V1422.2M789.8 1414.2V1429.7M825.8 1414.2V1422.2M858 1414.2V1429.7M887.1 1414.2V1422.2M913.6 1414.2V1429.7M938.1 1414.2V1422.2M960.7 1414.2V1429.7M109.7 1502H977M127.1 1502V1510M232.9 1502V1510M294.8 1502V1510M338.7 1502V1510M372.8 1502V1517.5M478.6 1502V1510M584.4 1502V1510M646.3 1502V1510M690.2 1502V1510M724.3 1502V1517.5M830.1 1502V1510M935.9 1502V1510" fill="none" stroke="#231815" stroke-width="1.1"/>
<defs><clipPath id="lk"><rect x="281.5" y="142.2" width="90.1" height="16"/></clipPath><clipPath id="ld"><rect x="281.5" y="168.4" width="90.1" height="16.3"/></clipPath></defs>
<path clip-path="url(#lk)" d="M268.8 158.2L284.8 142.2M282.5 158.2L298.5 142.2M296.2 158.2L312.2 142.2M309.9 158.2L325.9 142.2M323.6 158.2L339.6 142.2M337.3 158.2L353.3 142.2M351 158.2L367 142.2M364.7 158.2L380.7 142.2" fill="none" stroke="#6ec3d7" stroke-width="1.05"/>
<path clip-path="url(#ld)" d="M269.8 168.4L286.1 184.7M284.5 168.4L300.8 184.7M299.2 168.4L315.5 184.7M313.9 168.4L330.2 184.7M328.6 168.4L344.9 184.7M343.3 168.4L359.6 184.7M358 168.4L374.3 184.7M372.7 168.4L389 184.7" fill="none" stroke="#9a549b" stroke-width="1.1"/>
<path d="M127 168V184M137 168V184M147 168V184M157 168V184M167 168V184M177 168V184M187 168V184M197 168V184M207 168V184" fill="none" stroke="#7fc031" stroke-width="1.05"/>
<g fill="none" stroke="#231815" stroke-width="1"><rect x="125.5" y="141" width="89.8" height="16"/><rect x="125.5" y="168" width="89.8" height="16"/><rect x="281.5" y="142.2" width="90.1" height="16"/><rect x="281.5" y="168.4" width="90.1" height="16.3"/></g>
<text x="481.3" y="78" font-size="44.4" textLength="183.8" lengthAdjust="spacingAndGlyphs" stroke="#231815" stroke-width="0.5">LDR 1000</text>
<text x="223.6" y="156.5" font-size="19.6"  stroke="#231815" stroke-width="0.35">R</text>
<text x="223.6" y="183.4" font-size="19.6"  stroke="#231815" stroke-width="0.35">Z</text>
<text x="379.1" y="158" font-size="19.6"  stroke="#231815" stroke-width="0.35">K</text>
<text x="379.1" y="184.5" font-size="19.6" textLength="107.5" lengthAdjust="spacingAndGlyphs"  stroke="#231815" stroke-width="0.35">DO NOT USE</text>
<text x="128" y="217.8" font-size="19.5" textLength="78.1" lengthAdjust="spacingAndGlyphs"  stroke="#231815" stroke-width="0.35">气体密度</text>
<text x="212.3" y="217.8" font-size="19.6" textLength="202.7" lengthAdjust="spacingAndGlyphs"  stroke="#231815" stroke-width="0.35">AIR DENSITY: 1.2kg/m³</text>
<text x="688.5" y="159" font-size="19.6" textLength="162.2" lengthAdjust="spacingAndGlyphs"  stroke="#231815" stroke-width="0.35">TOTAL EFFICIENCY</text>
<text x="688.5" y="185" font-size="19.2" textLength="95.6" lengthAdjust="spacingAndGlyphs"  stroke="#231815" stroke-width="0.35">全压内效率</text>
<text x="791.2" y="185" font-size="19.6" textLength="42.5" lengthAdjust="spacingAndGlyphs"  stroke="#231815" stroke-width="0.35">η(%)</text>
<text x="487.6" y="220.1" font-size="19.6" text-anchor="middle" textLength="20" lengthAdjust="spacingAndGlyphs"  stroke="#231815" stroke-width="0.35">55</text>
<text x="613.6" y="220.1" font-size="19.6" text-anchor="middle" textLength="20" lengthAdjust="spacingAndGlyphs"  stroke="#231815" stroke-width="0.35">68</text>
<text x="739" y="220.1" font-size="19.6" text-anchor="middle" textLength="20" lengthAdjust="spacingAndGlyphs"  stroke="#231815" stroke-width="0.35">80</text>
<text x="865.2" y="220.1" font-size="19.6" text-anchor="middle" textLength="20" lengthAdjust="spacingAndGlyphs"  stroke="#231815" stroke-width="0.35">71</text>
<text x="976" y="220.1" font-size="19.6" text-anchor="middle" textLength="20" lengthAdjust="spacingAndGlyphs"  stroke="#231815" stroke-width="0.35">62</text>
<text x="981.1" y="470.4" font-size="19.6" textLength="20" lengthAdjust="spacingAndGlyphs"  stroke="#231815" stroke-width="0.35">44</text>
<text x="981.1" y="693" font-size="19.6" textLength="20" lengthAdjust="spacingAndGlyphs"  stroke="#231815" stroke-width="0.35">32</text>
<text x="85" y="234.2" font-size="19.6" text-anchor="end" textLength="40" lengthAdjust="spacingAndGlyphs"  stroke="#231815" stroke-width="0.35">4000</text>
<text x="85" y="270.5" font-size="19.6" text-anchor="end" textLength="40" lengthAdjust="spacingAndGlyphs"  stroke="#231815" stroke-width="0.35">3500</text>
<text x="85" y="312.3" font-size="19.6" text-anchor="end" textLength="40" lengthAdjust="spacingAndGlyphs"  stroke="#231815" stroke-width="0.35">3000</text>
<text x="85" y="361.8" font-size="19.6" text-anchor="end" textLength="40" lengthAdjust="spacingAndGlyphs"  stroke="#231815" stroke-width="0.35">2500</text>
<text x="85" y="422.3" font-size="19.6" text-anchor="end" textLength="40" lengthAdjust="spacingAndGlyphs"  stroke="#231815" stroke-width="0.35">2000</text>
<text x="85" y="500.4" font-size="19.6" text-anchor="end" textLength="40" lengthAdjust="spacingAndGlyphs"  stroke="#231815" stroke-width="0.35">1500</text>
<text x="85" y="610.4" font-size="19.6" text-anchor="end" textLength="40" lengthAdjust="spacingAndGlyphs" stroke="#231815" stroke-width="0.5">1000</text>
<text x="85" y="639" font-size="19.6" text-anchor="end" textLength="30" lengthAdjust="spacingAndGlyphs"  stroke="#231815" stroke-width="0.35">900</text>
<text x="85" y="670.9" font-size="19.6" text-anchor="end" textLength="30" lengthAdjust="spacingAndGlyphs"  stroke="#231815" stroke-width="0.35">800</text>
<text x="85" y="707.2" font-size="19.6" text-anchor="end" textLength="30" lengthAdjust="spacingAndGlyphs"  stroke="#231815" stroke-width="0.35">700</text>
<text x="85" y="749" font-size="19.6" text-anchor="end" textLength="30" lengthAdjust="spacingAndGlyphs"  stroke="#231815" stroke-width="0.35">600</text>
<text x="85" y="798.5" font-size="19.6" text-anchor="end" textLength="30" lengthAdjust="spacingAndGlyphs"  stroke="#231815" stroke-width="0.35">500</text>
<text x="85" y="827.1" font-size="19.6" text-anchor="end" textLength="30" lengthAdjust="spacingAndGlyphs"  stroke="#231815" stroke-width="0.35">450</text>
<text x="85" y="859" font-size="19.6" text-anchor="end" textLength="30" lengthAdjust="spacingAndGlyphs"  stroke="#231815" stroke-width="0.35">400</text>
<text x="85" y="895.3" font-size="19.6" text-anchor="end" textLength="30" lengthAdjust="spacingAndGlyphs"  stroke="#231815" stroke-width="0.35">350</text>
<text x="85" y="937.1" font-size="19.6" text-anchor="end" textLength="30" lengthAdjust="spacingAndGlyphs"  stroke="#231815" stroke-width="0.35">300</text>
<text x="85" y="986.6" font-size="19.6" text-anchor="end" textLength="30" lengthAdjust="spacingAndGlyphs"  stroke="#231815" stroke-width="0.35">250</text>
<text x="85" y="1047.1" font-size="19.6" text-anchor="end" textLength="30" lengthAdjust="spacingAndGlyphs"  stroke="#231815" stroke-width="0.35">200</text>
<text x="85" y="1125.2" font-size="19.6" text-anchor="end" textLength="30" lengthAdjust="spacingAndGlyphs"  stroke="#231815" stroke-width="0.35">150</text>
<text x="85" y="1235.2" font-size="19.6" text-anchor="end" textLength="30" lengthAdjust="spacingAndGlyphs" stroke="#231815" stroke-width="0.5">100</text>
<text x="85" y="1263.8" font-size="19.6" text-anchor="end" textLength="20" lengthAdjust="spacingAndGlyphs"  stroke="#231815" stroke-width="0.35">90</text>
<text x="85" y="1295.7" font-size="19.6" text-anchor="end" textLength="20" lengthAdjust="spacingAndGlyphs"  stroke="#231815" stroke-width="0.35">80</text>
<text x="85" y="1332.1" font-size="19.6" text-anchor="end" textLength="20" lengthAdjust="spacingAndGlyphs" stroke="#231815" stroke-width="0.5">70</text>
<text x="110.7" y="1367.5" font-size="19.6" text-anchor="middle" textLength="20" lengthAdjust="spacingAndGlyphs"  stroke="#231815" stroke-width="0.35">10</text>
<text x="234.5" y="1367.5" font-size="19.6" text-anchor="middle" textLength="20" lengthAdjust="spacingAndGlyphs"  stroke="#231815" stroke-width="0.35">15</text>
<text x="322.3" y="1367.5" font-size="19.6" text-anchor="middle" textLength="20" lengthAdjust="spacingAndGlyphs"  stroke="#231815" stroke-width="0.35">20</text>
<text x="390.5" y="1367.5" font-size="19.6" text-anchor="middle" textLength="20" lengthAdjust="spacingAndGlyphs"  stroke="#231815" stroke-width="0.35">25</text>
<text x="446.1" y="1367.5" font-size="19.6" text-anchor="middle" textLength="20" lengthAdjust="spacingAndGlyphs"  stroke="#231815" stroke-width="0.35">30</text>
<text x="493.2" y="1367.5" font-size="19.6" text-anchor="middle" textLength="20" lengthAdjust="spacingAndGlyphs"  stroke="#231815" stroke-width="0.35">35</text>
<text x="533.9" y="1367.5" font-size="19.6" text-anchor="middle" textLength="20" lengthAdjust="spacingAndGlyphs"  stroke="#231815" stroke-width="0.35">40</text>
<text x="569.9" y="1367.5" font-size="19.6" text-anchor="middle" textLength="20" lengthAdjust="spacingAndGlyphs"  stroke="#231815" stroke-width="0.35">45</text>
<text x="602.1" y="1367.5" font-size="19.6" text-anchor="middle" textLength="20" lengthAdjust="spacingAndGlyphs"  stroke="#231815" stroke-width="0.35">50</text>
<text x="657.7" y="1367.5" font-size="19.6" text-anchor="middle" textLength="20" lengthAdjust="spacingAndGlyphs"  stroke="#231815" stroke-width="0.35">60</text>
<text x="704.8" y="1367.5" font-size="19.6" text-anchor="middle" textLength="20" lengthAdjust="spacingAndGlyphs"  stroke="#231815" stroke-width="0.35">70</text>
<text x="745.6" y="1367.5" font-size="19.6" text-anchor="middle" textLength="20" lengthAdjust="spacingAndGlyphs"  stroke="#231815" stroke-width="0.35">80</text>
<text x="781.5" y="1367.5" font-size="19.6" text-anchor="middle" textLength="20" lengthAdjust="spacingAndGlyphs"  stroke="#231815" stroke-width="0.35">90</text>
<text x="814.4" y="1367.5" font-size="19.6" text-anchor="middle" textLength="30" lengthAdjust="spacingAndGlyphs"  stroke="#231815" stroke-width="0.35">100</text>
<text x="870.1" y="1367.5" font-size="19.6" text-anchor="middle" textLength="30" lengthAdjust="spacingAndGlyphs"  stroke="#231815" stroke-width="0.35">120</text>
<text x="917.1" y="1367.5" font-size="19.6" text-anchor="middle" textLength="30" lengthAdjust="spacingAndGlyphs"  stroke="#231815" stroke-width="0.35">140</text>
<text x="976.4" y="1367.5" font-size="19.6" text-anchor="middle" textLength="30" lengthAdjust="spacingAndGlyphs"  stroke="#231815" stroke-width="0.35">170</text>
<text x="994.6" y="1295.3" font-size="19.6" textLength="30" lengthAdjust="spacingAndGlyphs"  stroke="#231815" stroke-width="0.35">500</text>
<text x="994.6" y="1196.4" font-size="19.6" textLength="30" lengthAdjust="spacingAndGlyphs"  stroke="#231815" stroke-width="0.35">600</text>
<text x="994.6" y="1112.7" font-size="19.6" textLength="30" lengthAdjust="spacingAndGlyphs"  stroke="#231815" stroke-width="0.35">700</text>
<text x="994.6" y="1040.2" font-size="19.6" textLength="30" lengthAdjust="spacingAndGlyphs"  stroke="#231815" stroke-width="0.35">800</text>
<text x="994.6" y="976.3" font-size="19.6" textLength="30" lengthAdjust="spacingAndGlyphs"  stroke="#231815" stroke-width="0.35">900</text>
<text x="994.6" y="919.1" font-size="19.6" textLength="40" lengthAdjust="spacingAndGlyphs"  stroke="#231815" stroke-width="0.35">1000</text>
<text x="994.6" y="867.4" font-size="19.6" textLength="40" lengthAdjust="spacingAndGlyphs"  stroke="#231815" stroke-width="0.35">1100</text>
<text x="994.6" y="820.2" font-size="19.6" textLength="40" lengthAdjust="spacingAndGlyphs"  stroke="#231815" stroke-width="0.35">1200</text>
<text x="994.6" y="776.7" font-size="19.6" textLength="40" lengthAdjust="spacingAndGlyphs"  stroke="#231815" stroke-width="0.35">1300</text>
<text x="994.6" y="736.5" font-size="19.6" textLength="40" lengthAdjust="spacingAndGlyphs"  stroke="#231815" stroke-width="0.35">1400</text>
<text x="1106.5" y="1221.5" font-size="19.6" textLength="20" lengthAdjust="spacingAndGlyphs"  stroke="#231815" stroke-width="0.35">30</text>
<text x="1106.5" y="1137.8" font-size="19.6" textLength="20" lengthAdjust="spacingAndGlyphs"  stroke="#231815" stroke-width="0.35">35</text>
<text x="1106.5" y="1065.4" font-size="19.6" textLength="20" lengthAdjust="spacingAndGlyphs"  stroke="#231815" stroke-width="0.35">40</text>
<text x="1106.5" y="1001.4" font-size="19.6" textLength="20" lengthAdjust="spacingAndGlyphs"  stroke="#231815" stroke-width="0.35">45</text>
<text x="1106.5" y="944.3" font-size="19.6" textLength="20" lengthAdjust="spacingAndGlyphs"  stroke="#231815" stroke-width="0.35">50</text>
<text x="1106.5" y="892.5" font-size="19.6" textLength="20" lengthAdjust="spacingAndGlyphs"  stroke="#231815" stroke-width="0.35">55</text>
<text x="1106.5" y="845.3" font-size="19.6" textLength="20" lengthAdjust="spacingAndGlyphs"  stroke="#231815" stroke-width="0.35">60</text>
<text x="1106.5" y="801.9" font-size="19.6" textLength="20" lengthAdjust="spacingAndGlyphs"  stroke="#231815" stroke-width="0.35">65</text>
<text x="1106.5" y="761.7" font-size="19.6" textLength="20" lengthAdjust="spacingAndGlyphs"  stroke="#231815" stroke-width="0.35">70</text>
<text transform="translate(32.9 949.2) rotate(-90)" font-size="19.6" textLength="147" lengthAdjust="spacingAndGlyphs"  stroke="#231815" stroke-width="0.35">xi0.84759;TOTAL</text>
<text transform="translate(32.9 797) rotate(-90)" font-size="19.6" textLength="87.6" lengthAdjust="spacingAndGlyphs"  stroke="#231815" stroke-width="0.35">PRESSURE</text>
<text transform="translate(32.9 701.4) rotate(-90)" font-size="18.3" textLength="36.7" lengthAdjust="spacingAndGlyphs"  stroke="#231815" stroke-width="0.35">全压</text>
<text transform="translate(32.9 652.1) rotate(-90)" font-size="19.6" textLength="49.9" lengthAdjust="spacingAndGlyphs"  stroke="#231815" stroke-width="0.35">Pt(Pa)</text>
<text transform="translate(1007.8 296.3) rotate(-90)" font-size="19.6" textLength="111.4" lengthAdjust="spacingAndGlyphs"  stroke="#231815" stroke-width="0.35">ROTATIONAL</text>
<text transform="translate(1007.8 176.6) rotate(-90)" font-size="19.6" textLength="53.3" lengthAdjust="spacingAndGlyphs"  stroke="#231815" stroke-width="0.35">SPEED</text>
<text transform="translate(1033 278.5) rotate(-90)" font-size="19.6" textLength="78.3" lengthAdjust="spacingAndGlyphs"  stroke="#231815" stroke-width="0.35">旋转速度</text>
<text transform="translate(1033 198.5) rotate(-90)" font-size="19.6" textLength="57" lengthAdjust="spacingAndGlyphs"  stroke="#231815" stroke-width="0.35">(r/min)</text>
<text transform="translate(1106.9 301) rotate(-90)" font-size="19.6" textLength="179" lengthAdjust="spacingAndGlyphs"  stroke="#231815" stroke-width="0.35">IMPELLER TIP SPEED</text>
<text transform="translate(1132 292.2) rotate(-90)" font-size="19.6" textLength="117.6" lengthAdjust="spacingAndGlyphs"  stroke="#231815" stroke-width="0.35">叶轮外缘速度</text>
<text transform="translate(1132 173.4) rotate(-90)" font-size="19.6" textLength="43.4" lengthAdjust="spacingAndGlyphs"  stroke="#231815" stroke-width="0.35">(m/s)</text>
<text x="157" y="791.5" font-size="19.6" text-anchor="middle" textLength="10" lengthAdjust="spacingAndGlyphs" fill="#25509f" stroke="#25509f" stroke-width="0.6">3</text>
<text x="189.5" y="717.5" font-size="19.6" text-anchor="middle" textLength="25" lengthAdjust="spacingAndGlyphs" fill="#25509f" stroke="#25509f" stroke-width="0.6">4.5</text>
<text x="240.5" y="639" font-size="19.6" text-anchor="middle" textLength="10" lengthAdjust="spacingAndGlyphs" fill="#25509f" stroke="#25509f" stroke-width="0.6">7</text>
<text x="271.2" y="572.5" font-size="19.6" text-anchor="middle" textLength="20" lengthAdjust="spacingAndGlyphs" fill="#25509f" stroke="#25509f" stroke-width="0.6">10</text>
<text x="316" y="498.9" font-size="19.6" text-anchor="middle" textLength="20" lengthAdjust="spacingAndGlyphs" fill="#25509f" stroke="#25509f" stroke-width="0.6">15</text>
<text x="355" y="431.4" font-size="19.6" text-anchor="middle" textLength="20" lengthAdjust="spacingAndGlyphs" fill="#25509f" stroke="#25509f" stroke-width="0.6">22</text>
<text x="386" y="372.9" font-size="19.6" text-anchor="middle" textLength="20" lengthAdjust="spacingAndGlyphs" fill="#25509f" stroke="#25509f" stroke-width="0.6">30</text>
<text x="427.2" y="302.9" font-size="19.6" text-anchor="middle" textLength="20" lengthAdjust="spacingAndGlyphs" fill="#25509f" stroke="#25509f" stroke-width="0.6">45</text>
<text x="550.5" y="268.9" font-size="19.6" text-anchor="middle" textLength="20" lengthAdjust="spacingAndGlyphs" fill="#25509f" stroke="#25509f" stroke-width="0.6">60</text>
<text x="738.5" y="269.9" font-size="19.6" text-anchor="middle" textLength="20" lengthAdjust="spacingAndGlyphs" fill="#25509f" stroke="#25509f" stroke-width="0.6">90</text>
<text x="297.7" y="849.1" font-size="19.6" textLength="20" lengthAdjust="spacingAndGlyphs" fill="#d8281c" stroke="#d8281c" stroke-width="0.5">85</text>
<text x="576.1" y="1071.9" font-size="19.6" textLength="20" lengthAdjust="spacingAndGlyphs" fill="#d8281c" stroke="#d8281c" stroke-width="0.5">90</text>
<text x="691.5" y="1217.9" font-size="19.6" textLength="20" lengthAdjust="spacingAndGlyphs" fill="#d8281c" stroke="#d8281c" stroke-width="0.5">95</text>
<text x="757.5" y="1098.7" font-size="19.6" textLength="30" lengthAdjust="spacingAndGlyphs" fill="#d8281c" stroke="#d8281c" stroke-width="0.5">100</text>
<text x="827.5" y="967.7" font-size="19.6" textLength="30" lengthAdjust="spacingAndGlyphs" fill="#d8281c" stroke="#d8281c" stroke-width="0.5">105</text>
<text x="905.3" y="838.8" font-size="19.6" textLength="30" lengthAdjust="spacingAndGlyphs" fill="#d8281c" stroke="#d8281c" stroke-width="0.5">110</text>
<text transform="translate(221.6 529.7) rotate(-61)" font-size="20" textLength="201.5" lengthAdjust="spacingAndGlyphs" fill="#25509f" stroke="none" font-family="'Liberation Serif',serif">IMPELLER POWER (kW)</text>
<text transform="translate(271 496.5) rotate(-61)" font-size="17.5" textLength="70" lengthAdjust="spacingAndGlyphs" fill="#25509f" stroke="none" font-family="'Noto Serif CJK SC',serif">叶轮功率</text>
<text transform="translate(753.2 1263.3) rotate(-60.7)" font-size="20.5" textLength="334.7" lengthAdjust="spacingAndGlyphs" fill="#d8281c" stroke="#d8281c" stroke-width="0.35">SOUND POWER LEVEL A<tspan font-family="'Noto Sans CJK SC',sans-serif" font-size="19">声功率级</tspan>  dB(A)</text>
<text x="366.6" y="1454.3" font-size="19.6" text-anchor="middle" textLength="10" lengthAdjust="spacingAndGlyphs"  stroke="#231815" stroke-width="0.35">4</text>
<text x="578.2" y="1454.3" font-size="19.6" text-anchor="middle" textLength="10" lengthAdjust="spacingAndGlyphs"  stroke="#231815" stroke-width="0.35">8</text>
<text x="702" y="1454.3" font-size="19.6" text-anchor="middle" textLength="20" lengthAdjust="spacingAndGlyphs"  stroke="#231815" stroke-width="0.35">12</text>
<text x="789.8" y="1454.3" font-size="19.6" text-anchor="middle" textLength="20" lengthAdjust="spacingAndGlyphs"  stroke="#231815" stroke-width="0.35">16</text>
<text x="858" y="1454.3" font-size="19.6" text-anchor="middle" textLength="20" lengthAdjust="spacingAndGlyphs"  stroke="#231815" stroke-width="0.35">20</text>
<text x="913.6" y="1454.3" font-size="19.6" text-anchor="middle" textLength="20" lengthAdjust="spacingAndGlyphs"  stroke="#231815" stroke-width="0.35">24</text>
<text x="960.7" y="1454.3" font-size="19.6" text-anchor="middle" textLength="20" lengthAdjust="spacingAndGlyphs"  stroke="#231815" stroke-width="0.35">28</text>
<text x="127.1" y="1542.2" font-size="19.6" text-anchor="middle" textLength="25" lengthAdjust="spacingAndGlyphs"  stroke="#231815" stroke-width="0.35">0.2</text>
<text x="232.9" y="1542.2" font-size="19.6" text-anchor="middle" textLength="25" lengthAdjust="spacingAndGlyphs"  stroke="#231815" stroke-width="0.35">0.4</text>
<text x="294.8" y="1542.2" font-size="19.6" text-anchor="middle" textLength="25" lengthAdjust="spacingAndGlyphs"  stroke="#231815" stroke-width="0.35">0.6</text>
<text x="338.7" y="1542.2" font-size="19.6" text-anchor="middle" textLength="25" lengthAdjust="spacingAndGlyphs"  stroke="#231815" stroke-width="0.35">0.8</text>
<text x="372.8" y="1542.2" font-size="19.6" text-anchor="middle" textLength="10" lengthAdjust="spacingAndGlyphs"  stroke="#231815" stroke-width="0.35">1</text>
<text x="478.6" y="1542.2" font-size="19.6" text-anchor="middle" textLength="10" lengthAdjust="spacingAndGlyphs"  stroke="#231815" stroke-width="0.35">2</text>
<text x="584.4" y="1542.2" font-size="19.6" text-anchor="middle" textLength="10" lengthAdjust="spacingAndGlyphs"  stroke="#231815" stroke-width="0.35">4</text>
<text x="646.3" y="1542.2" font-size="19.6" text-anchor="middle" textLength="10" lengthAdjust="spacingAndGlyphs"  stroke="#231815" stroke-width="0.35">6</text>
<text x="690.2" y="1542.2" font-size="19.6" text-anchor="middle" textLength="10" lengthAdjust="spacingAndGlyphs"  stroke="#231815" stroke-width="0.35">8</text>
<text x="724.3" y="1542.2" font-size="19.6" text-anchor="middle" textLength="20" lengthAdjust="spacingAndGlyphs"  stroke="#231815" stroke-width="0.35">10</text>
<text x="830.1" y="1542.2" font-size="19.6" text-anchor="middle" textLength="20" lengthAdjust="spacingAndGlyphs"  stroke="#231815" stroke-width="0.35">20</text>
<text x="935.9" y="1542.2" font-size="19.6" text-anchor="middle" textLength="20" lengthAdjust="spacingAndGlyphs"  stroke="#231815" stroke-width="0.35">40</text>
<text x="1015.4" y="1341.8" font-size="19" textLength="178.1" lengthAdjust="spacingAndGlyphs"  stroke="#231815" stroke-width="0.35">VOLUME FLOW RATE</text>
<text x="1015.4" y="1366.8" font-size="17.8" textLength="35.5" lengthAdjust="spacingAndGlyphs"  stroke="#231815" stroke-width="0.35">流量</text>
<text x="1051.9" y="1366.8" font-size="19" textLength="118.7" lengthAdjust="spacingAndGlyphs"  stroke="#231815" stroke-width="0.35">(×1000 m³/h)</text>
<text x="1019.4" y="1428" font-size="19" textLength="158.9" lengthAdjust="spacingAndGlyphs"  stroke="#231815" stroke-width="0.35">OUTLET VELOCITY</text>
<text x="1019.4" y="1452.6" font-size="18.3" textLength="73.1" lengthAdjust="spacingAndGlyphs"  stroke="#231815" stroke-width="0.35">出口速度</text>
<text x="1093.5" y="1452.6" font-size="19" textLength="46.2" lengthAdjust="spacingAndGlyphs"  stroke="#231815" stroke-width="0.35">(m/s)</text>
<text x="1018.4" y="1517.6" font-size="22.3" textLength="205.3" lengthAdjust="spacingAndGlyphs"  stroke="#231815" stroke-width="0.35">DYNAMIC PRESSURE</text>
<text x="1018.4" y="1546.4" font-size="21.8" textLength="43.6" lengthAdjust="spacingAndGlyphs"  stroke="#231815" stroke-width="0.35">动压</text>
<text x="1063" y="1546.6" font-size="22.3" textLength="87.3" lengthAdjust="spacingAndGlyphs"  stroke="#231815" stroke-width="0.35">(×10 Pa)</text>
<text x="25" y="1626" font-size="23.6" textLength="808.5" lengthAdjust="spacingAndGlyphs"  stroke="#231815" stroke-width="0.35">Performance shown is for installation type B, free inlet , duct outlet, and doesn’t</text>
<text x="25" y="1654" font-size="23.6" textLength="987.5" lengthAdjust="spacingAndGlyphs"  stroke="#231815" stroke-width="0.35">include the effects of appurtenances in the airstream.Power rating kW doesn’t includedrive lesses.</text>
</svg>
</body></html>
